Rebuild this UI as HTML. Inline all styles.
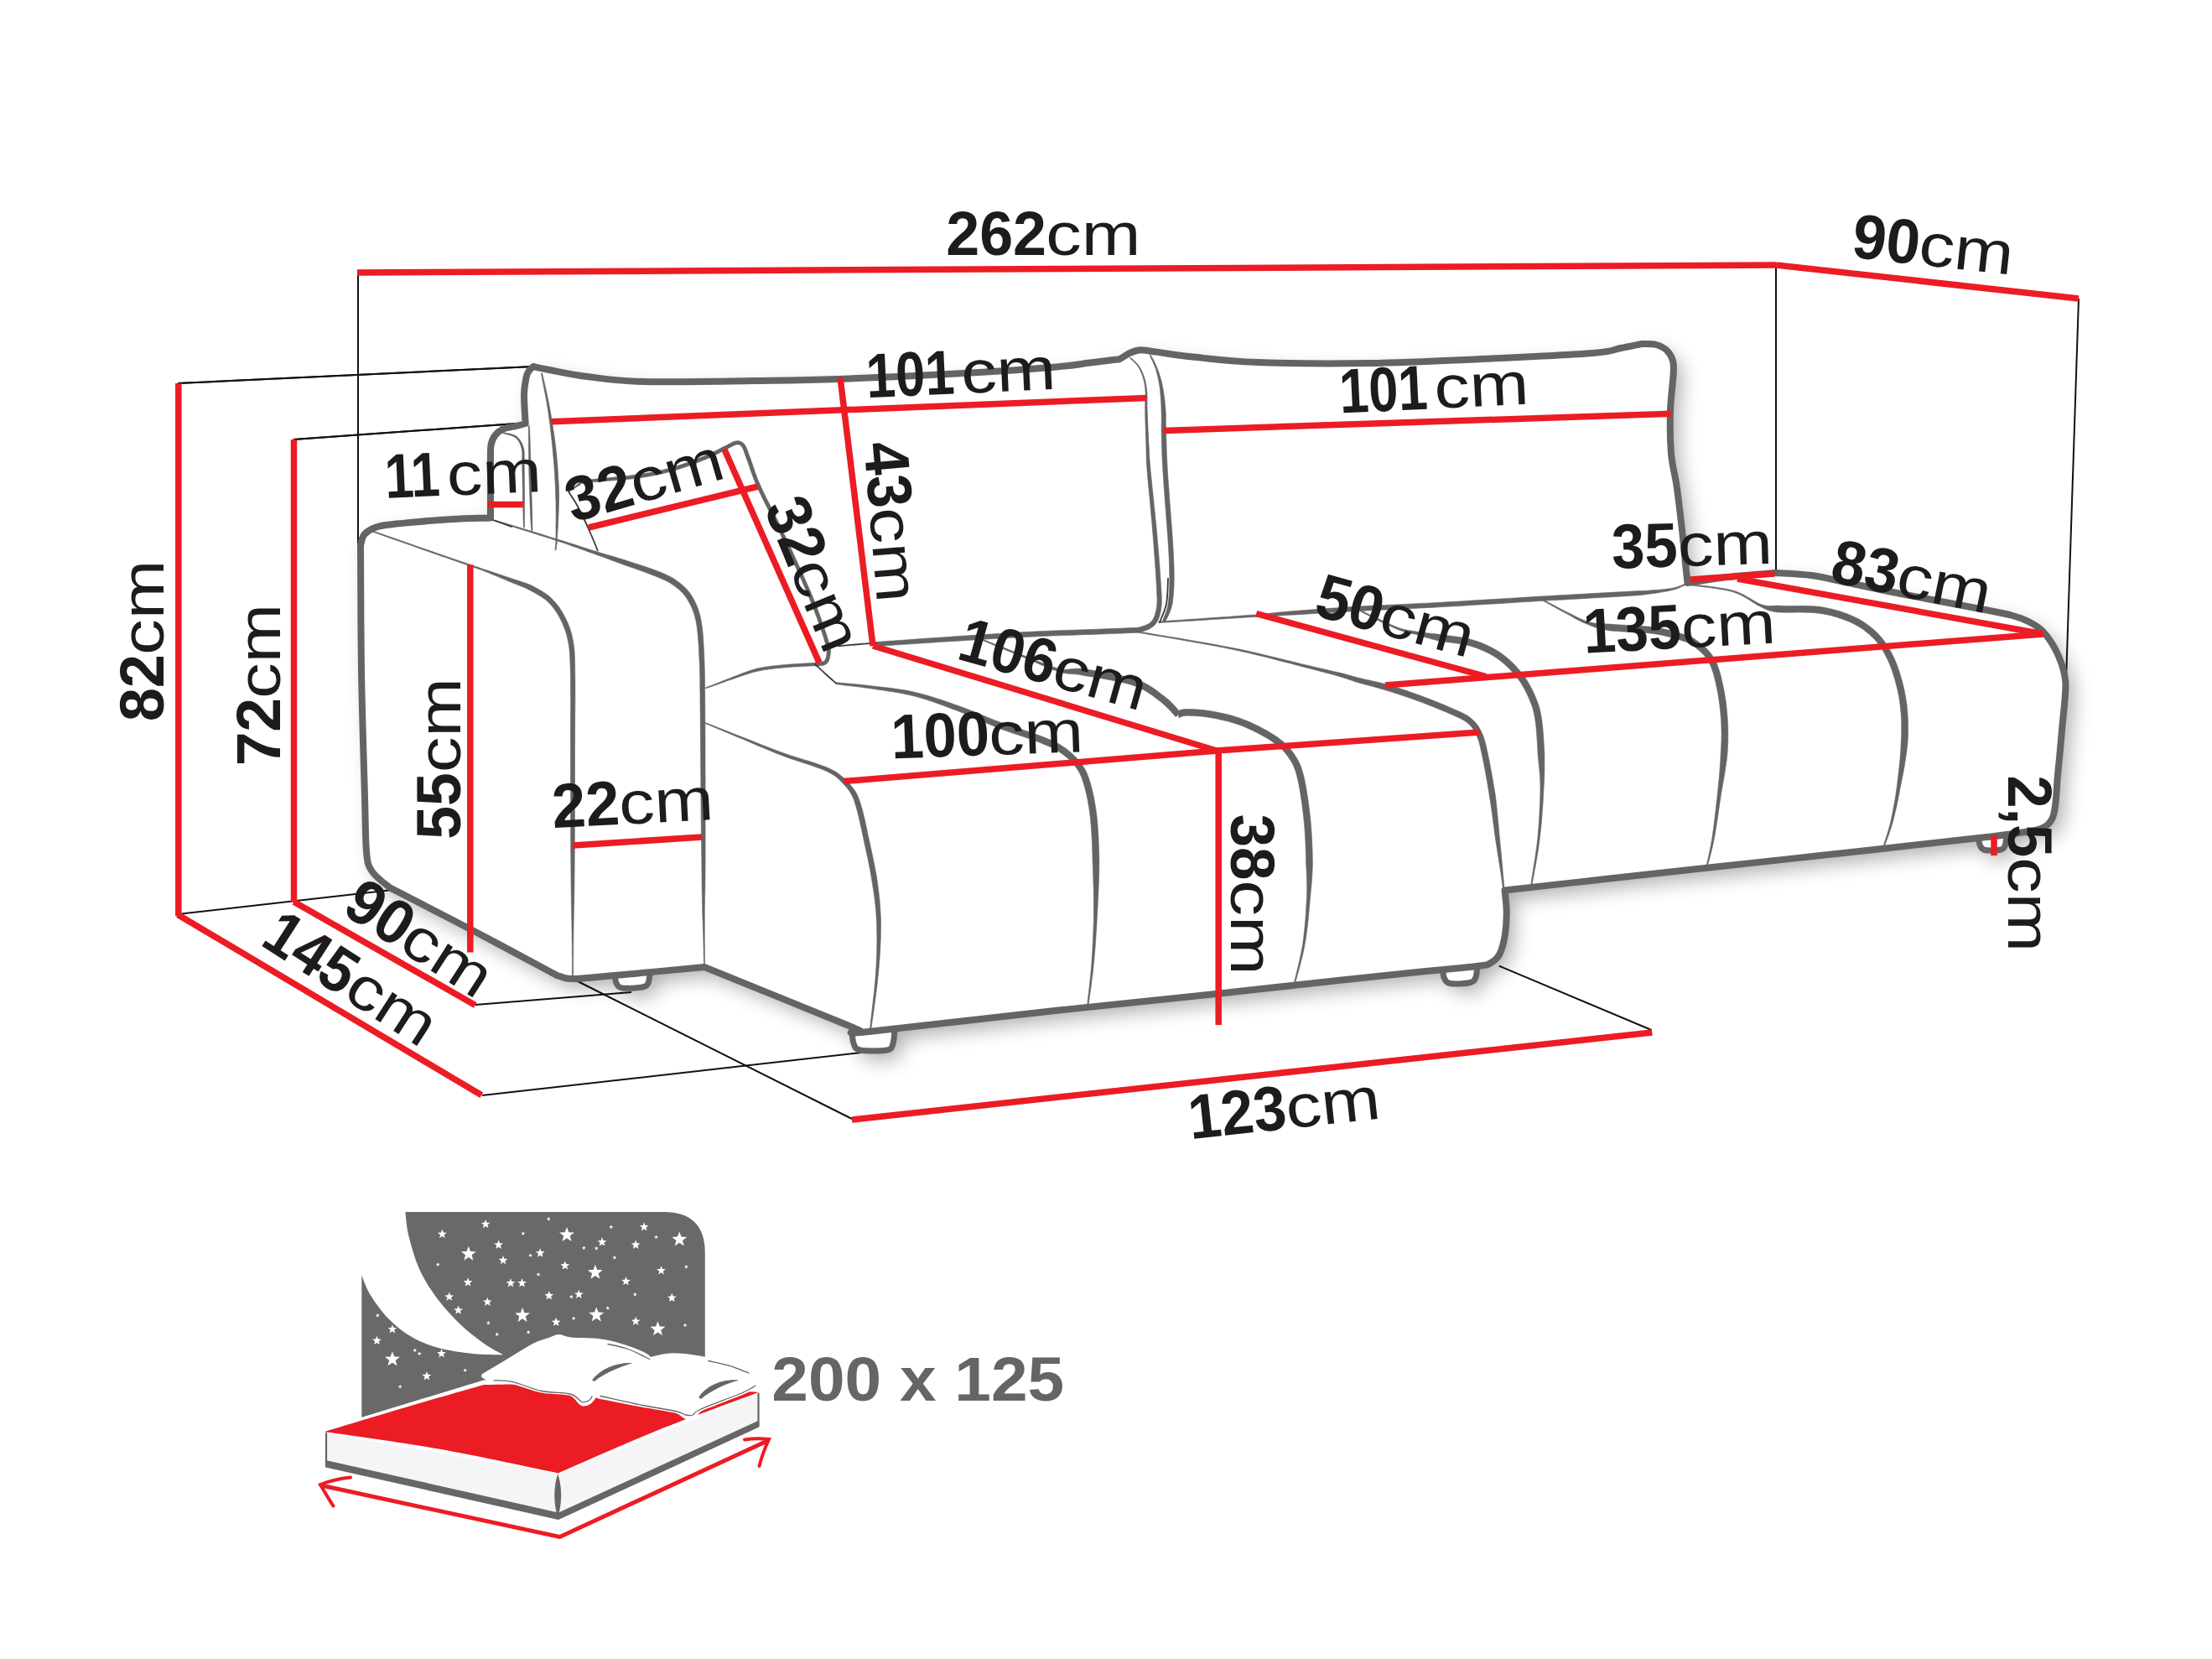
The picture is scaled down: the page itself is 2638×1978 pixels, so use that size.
<!DOCTYPE html>
<html lang="pl"><head><meta charset="utf-8"><title>Sofa 262cm</title>
<style>html,body{margin:0;padding:0;background:#fff}body{width:2638px;height:1978px;overflow:hidden}svg{display:block}text{font-family:"Liberation Sans",Arial,sans-serif;fill:#1d1b1c}.b{font-weight:bold}</style></head><body>
<svg width="2638" height="1978" viewBox="0 0 2638 1978">
<defs><filter id="sh" x="-5%" y="-5%" width="112%" height="115%"><feGaussianBlur in="SourceAlpha" stdDeviation="12"/><feOffset dx="9" dy="10"/><feComponentTransfer><feFuncA type="linear" slope="0.33"/></feComponentTransfer><feMerge><feMergeNode/><feMergeNode in="SourceGraphic"/></feMerge></filter></defs>
<rect width="2638" height="1978" fill="#fff"/>
<g fill="none" stroke-linecap="butt">
<path d="M427 325L427 650" stroke="#111" stroke-width="2"/>
<path d="M212 457L636 437" stroke="#111" stroke-width="2"/>
<path d="M350 524L616 505" stroke="#111" stroke-width="2"/>
<path d="M2118 316L2118 683" stroke="#111" stroke-width="2"/>
<path d="M2479 356L2464 811" stroke="#111" stroke-width="2"/>
<path d="M212 1090L468 1061" stroke="#111" stroke-width="2"/>
<path d="M567 1198L753 1183" stroke="#111" stroke-width="2"/>
<path d="M575 1306L1027 1255" stroke="#111" stroke-width="2"/>
<path d="M683 1167L1016 1334" stroke="#111" stroke-width="2"/>
<path d="M1969.4 1228L1787.7 1151.7" stroke="#111" stroke-width="2"/>
</g>
<g filter="url(#sh)">
<path d="M733 1160C733.3 1162 733.5 1169 735 1172C736.5 1175 736.8 1177.2 742 1178C747.2 1178.8 760.8 1178 766 1177C771.2 1176 771.5 1174.8 773 1172C774.5 1169.2 774.7 1162 775 1160Z" fill="#fff"/>
<path d="M1016 1228C1016.3 1230.7 1016.3 1240 1018 1244C1019.7 1248 1019.3 1250.7 1026 1252C1032.7 1253.3 1051.5 1253.3 1058 1252C1064.5 1250.7 1063.5 1248.3 1065 1244C1066.5 1239.7 1066.7 1229 1067 1226Z" fill="#fff"/>
<path d="M1720.8 1153C1721 1155 1720.6 1161.8 1722 1165C1723.4 1168.2 1723.8 1171.4 1729 1172.5C1734.2 1173.6 1747.8 1172.8 1753 1171.5C1758.2 1170.2 1758.5 1168.8 1760 1165C1761.5 1161.2 1761.5 1151.7 1761.8 1149Z" fill="#fff"/>
<path d="M2360 996C2360.2 997.8 2359.8 1004.1 2361 1007C2362.2 1009.9 2362.8 1012.5 2367 1013.5C2371.2 1014.5 2381.9 1014.1 2386 1013C2390.1 1011.9 2390.4 1010.2 2391.5 1007C2392.6 1003.8 2392.3 996.2 2392.5 994Z" fill="#fff"/>
<path d="M585 617.5C577.5 617.8 554.2 618.2 540 619C525.8 619.8 513.3 620.8 500 622C486.7 623.2 469.2 624.7 460 626C450.8 627.3 449.3 628 445 630C440.7 632 436.5 634.7 434 638C431.5 641.3 430.7 648 430 650C430.2 675 430.2 750 431 800C431.8 850 434 914.2 435 950C436 985.8 435.7 1000.3 437 1015C438.3 1029.7 438.8 1031.2 443 1038C447.2 1044.8 455.8 1051.3 462 1056C468.2 1060.7 462.5 1056.8 480 1066C497.5 1075.2 537.8 1095.7 567 1111C596.2 1126.3 638.2 1149.2 655 1158C671.8 1166.8 663.3 1162.5 668 1164C672.7 1165.5 672.2 1167.2 683 1167C693.8 1166.8 706.8 1165.3 733 1163C759.2 1160.7 822.2 1154.7 840 1153C868.3 1164.5 979.7 1209.5 1010 1222C1040.3 1234.5 1017.7 1226.7 1022 1228C1026.3 1229.3 995.2 1234 1036 1230C1076.8 1226 1198 1211.5 1267 1204C1336 1196.5 1394.5 1190.9 1450 1185C1505.5 1179.1 1558.3 1173 1600 1168.5C1641.7 1164 1672.8 1160.8 1700 1158C1727.2 1155.2 1750.3 1153.4 1763.3 1151.7C1776.3 1150 1773.6 1150.4 1777.8 1148C1782 1145.6 1785.7 1142.9 1788.6 1137.2C1791.5 1131.5 1793.7 1122.1 1795 1113.7C1796.3 1105.3 1796.8 1095.3 1796.7 1086.6C1796.6 1077.9 1794.9 1065.7 1794.5 1061.5C1812.1 1059.5 1860.2 1054.1 1900 1049.7C1939.8 1045.3 1977.5 1041.2 2033 1035.1C2088.5 1029 2177.3 1019.3 2233 1013.2C2288.7 1007.1 2335.8 1002 2367 998.3C2398.2 994.6 2408 993.4 2420 991.2C2432 989.1 2434.4 988.1 2439 985.4C2443.6 982.7 2445.7 979.8 2447.8 975.2C2449.9 970.6 2450.4 965.6 2451.4 957.9C2452.4 950.2 2452.8 938.5 2453.6 928.9C2454.4 919.2 2455.4 910.5 2456.4 900C2457.4 889.5 2458.3 877.7 2459.4 866C2460.5 854.3 2462.2 839 2462.8 830C2463.4 821 2463.8 818 2463.2 812C2462.6 806 2461.7 801 2459.5 794.3C2457.3 787.6 2453.9 779 2450 772C2446.1 765 2441 757.6 2436 752.5C2431 747.4 2426 744.6 2420 741.5C2414 738.4 2408.8 736.4 2400 734C2391.2 731.6 2389.2 731.3 2367 727C2344.8 722.7 2294.8 713.5 2267 708C2239.2 702.5 2217.8 697.7 2200 694C2182.2 690.3 2173.7 687.8 2160 686C2146.3 684.2 2125 683.5 2118 683C2108.3 683.8 2077.6 686 2060 688C2042.4 690 2020.4 693.8 2012.5 695C2012 690.5 2010.7 678.8 2009.6 668C2008.5 657.2 2007.5 644.8 2005.8 630C2004.1 615.2 2001.6 593.8 1999.5 579C1997.4 564.2 1994.2 555.8 1993 541C1991.8 526.2 1991.5 506 1992 490C1992.5 474 1995.2 455 1995.7 445C1996.2 435 1996.3 434.5 1995 430C1993.7 425.5 1991.3 421.2 1988 418C1984.7 414.8 1980 412.3 1975 411C1970 409.7 1960.8 410.2 1958 410C1953.8 410.8 1942.7 413.2 1933 415C1923.3 416.8 1927.7 418.8 1900 421C1872.3 423.2 1811.5 426 1767 428C1722.5 430 1677.5 432.3 1633 433C1588.5 433.7 1535 433.2 1500 432C1465 430.8 1442.8 427.7 1422.7 425.6C1402.6 423.5 1389.2 421 1379.3 419.6C1369.3 418.2 1367 417.7 1363 417.4C1359 417.1 1358.2 417.4 1355.5 418C1352.8 418.6 1350 419.6 1346.8 421.2C1343.5 422.8 1338.7 426.4 1336 427.7C1333.3 429 1336.5 428 1330.5 428.8C1324.5 429.6 1311.8 431.1 1300 432.5C1288.2 433.9 1285 435.4 1260 437.5C1235 439.6 1193.3 442.6 1150 445C1106.7 447.4 1041.7 450.5 1000 452C958.3 453.5 938.8 453.5 900 454C861.2 454.5 800.3 455.8 767 455C733.7 454.2 718.7 451.3 700 449C681.3 446.7 665.7 443 655 441C644.3 439 639.2 437.7 636 437C635.1 437.9 631.9 440.3 630.5 442.5C629.1 444.7 628.4 445.7 627.5 450.4C626.6 455.1 625.1 461.5 625 470.6C624.9 479.7 626.4 499.3 626.7 505C624.9 505.5 620.2 506.7 615.7 507.8C611.2 508.9 604.2 509.6 600 511.5C595.8 513.4 592.9 515.8 590.5 519C588.1 522.2 586.4 525 585.5 531C584.6 537 585.1 540.6 585 555C584.9 569.4 585 607.1 585 617.5Z" fill="#fff"/>
</g>
<path d="M733 1160C733.3 1162 733.5 1169 735 1172C736.5 1175 736.8 1177.2 742 1178C747.2 1178.8 760.8 1178 766 1177C771.2 1176 771.5 1174.8 773 1172C774.5 1169.2 774.7 1162 775 1160" fill="#fff" stroke="#646464" stroke-width="7" stroke-linecap="round" stroke-linejoin="round"/>
<path d="M1016 1228C1016.3 1230.7 1016.3 1240 1018 1244C1019.7 1248 1019.3 1250.7 1026 1252C1032.7 1253.3 1051.5 1253.3 1058 1252C1064.5 1250.7 1063.5 1248.3 1065 1244C1066.5 1239.7 1066.7 1229 1067 1226" fill="#fff" stroke="#646464" stroke-width="7" stroke-linecap="round" stroke-linejoin="round"/>
<path d="M1720.8 1153C1721 1155 1720.6 1161.8 1722 1165C1723.4 1168.2 1723.8 1171.4 1729 1172.5C1734.2 1173.6 1747.8 1172.8 1753 1171.5C1758.2 1170.2 1758.5 1168.8 1760 1165C1761.5 1161.2 1761.5 1151.7 1761.8 1149" fill="#fff" stroke="#646464" stroke-width="7" stroke-linecap="round" stroke-linejoin="round"/>
<path d="M2360 996C2360.2 997.8 2359.8 1004.1 2361 1007C2362.2 1009.9 2362.8 1012.5 2367 1013.5C2371.2 1014.5 2381.9 1014.1 2386 1013C2390.1 1011.9 2390.4 1010.2 2391.5 1007C2392.6 1003.8 2392.3 996.2 2392.5 994" fill="#fff" stroke="#646464" stroke-width="7" stroke-linecap="round" stroke-linejoin="round"/>
<path d="M585 617.5C577.5 617.8 554.2 618.2 540 619C525.8 619.8 513.3 620.8 500 622C486.7 623.2 469.2 624.7 460 626C450.8 627.3 449.3 628 445 630C440.7 632 436.5 634.7 434 638C431.5 641.3 430.7 648 430 650C430.2 675 430.2 750 431 800C431.8 850 434 914.2 435 950C436 985.8 435.7 1000.3 437 1015C438.3 1029.7 438.8 1031.2 443 1038C447.2 1044.8 455.8 1051.3 462 1056C468.2 1060.7 462.5 1056.8 480 1066C497.5 1075.2 537.8 1095.7 567 1111C596.2 1126.3 638.2 1149.2 655 1158C671.8 1166.8 663.3 1162.5 668 1164C672.7 1165.5 672.2 1167.2 683 1167C693.8 1166.8 706.8 1165.3 733 1163C759.2 1160.7 822.2 1154.7 840 1153C868.3 1164.5 979.7 1209.5 1010 1222C1040.3 1234.5 1017.7 1226.7 1022 1228C1026.3 1229.3 995.2 1234 1036 1230C1076.8 1226 1198 1211.5 1267 1204C1336 1196.5 1394.5 1190.9 1450 1185C1505.5 1179.1 1558.3 1173 1600 1168.5C1641.7 1164 1672.8 1160.8 1700 1158C1727.2 1155.2 1750.3 1153.4 1763.3 1151.7C1776.3 1150 1773.6 1150.4 1777.8 1148C1782 1145.6 1785.7 1142.9 1788.6 1137.2C1791.5 1131.5 1793.7 1122.1 1795 1113.7C1796.3 1105.3 1796.8 1095.3 1796.7 1086.6C1796.6 1077.9 1794.9 1065.7 1794.5 1061.5C1812.1 1059.5 1860.2 1054.1 1900 1049.7C1939.8 1045.3 1977.5 1041.2 2033 1035.1C2088.5 1029 2177.3 1019.3 2233 1013.2C2288.7 1007.1 2335.8 1002 2367 998.3C2398.2 994.6 2408 993.4 2420 991.2C2432 989.1 2434.4 988.1 2439 985.4C2443.6 982.7 2445.7 979.8 2447.8 975.2C2449.9 970.6 2450.4 965.6 2451.4 957.9C2452.4 950.2 2452.8 938.5 2453.6 928.9C2454.4 919.2 2455.4 910.5 2456.4 900C2457.4 889.5 2458.3 877.7 2459.4 866C2460.5 854.3 2462.2 839 2462.8 830C2463.4 821 2463.8 818 2463.2 812C2462.6 806 2461.7 801 2459.5 794.3C2457.3 787.6 2453.9 779 2450 772C2446.1 765 2441 757.6 2436 752.5C2431 747.4 2426 744.6 2420 741.5C2414 738.4 2408.8 736.4 2400 734C2391.2 731.6 2389.2 731.3 2367 727C2344.8 722.7 2294.8 713.5 2267 708C2239.2 702.5 2217.8 697.7 2200 694C2182.2 690.3 2173.7 687.8 2160 686C2146.3 684.2 2125 683.5 2118 683C2108.3 683.8 2077.6 686 2060 688C2042.4 690 2020.4 693.8 2012.5 695C2012 690.5 2010.7 678.8 2009.6 668C2008.5 657.2 2007.5 644.8 2005.8 630C2004.1 615.2 2001.6 593.8 1999.5 579C1997.4 564.2 1994.2 555.8 1993 541C1991.8 526.2 1991.5 506 1992 490C1992.5 474 1995.2 455 1995.7 445C1996.2 435 1996.3 434.5 1995 430C1993.7 425.5 1991.3 421.2 1988 418C1984.7 414.8 1980 412.3 1975 411C1970 409.7 1960.8 410.2 1958 410C1953.8 410.8 1942.7 413.2 1933 415C1923.3 416.8 1927.7 418.8 1900 421C1872.3 423.2 1811.5 426 1767 428C1722.5 430 1677.5 432.3 1633 433C1588.5 433.7 1535 433.2 1500 432C1465 430.8 1442.8 427.7 1422.7 425.6C1402.6 423.5 1389.2 421 1379.3 419.6C1369.3 418.2 1367 417.7 1363 417.4C1359 417.1 1358.2 417.4 1355.5 418C1352.8 418.6 1350 419.6 1346.8 421.2C1343.5 422.8 1338.7 426.4 1336 427.7C1333.3 429 1336.5 428 1330.5 428.8C1324.5 429.6 1311.8 431.1 1300 432.5C1288.2 433.9 1285 435.4 1260 437.5C1235 439.6 1193.3 442.6 1150 445C1106.7 447.4 1041.7 450.5 1000 452C958.3 453.5 938.8 453.5 900 454C861.2 454.5 800.3 455.8 767 455C733.7 454.2 718.7 451.3 700 449C681.3 446.7 665.7 443 655 441C644.3 439 639.2 437.7 636 437C635.1 437.9 631.9 440.3 630.5 442.5C629.1 444.7 628.4 445.7 627.5 450.4C626.6 455.1 625.1 461.5 625 470.6C624.9 479.7 626.4 499.3 626.7 505C624.9 505.5 620.2 506.7 615.7 507.8C611.2 508.9 604.2 509.6 600 511.5C595.8 513.4 592.9 515.8 590.5 519C588.1 522.2 586.4 525 585.5 531C584.6 537 585.1 540.6 585 555C584.9 569.4 585 607.1 585 617.5Z" fill="#fff"/>
<g fill="none">
<path d="M427 325L427 650" stroke="#111" stroke-width="2"/>
<path d="M212 457L636 437" stroke="#111" stroke-width="2"/>
<path d="M350 524L616 505" stroke="#111" stroke-width="2"/>
</g>
<g fill="none" stroke-linecap="round" stroke-linejoin="round">
<path d="M585 617.5C577.5 617.8 554.2 618.2 540 619C525.8 619.8 513.3 620.8 500 622C486.7 623.2 469.2 624.7 460 626C450.8 627.3 449.3 628 445 630C440.7 632 436.5 634.7 434 638C431.5 641.3 430.7 648 430 650C430.2 675 430.2 750 431 800C431.8 850 434 914.2 435 950C436 985.8 435.7 1000.3 437 1015C438.3 1029.7 438.8 1031.2 443 1038C447.2 1044.8 455.8 1051.3 462 1056C468.2 1060.7 462.5 1056.8 480 1066C497.5 1075.2 537.8 1095.7 567 1111C596.2 1126.3 638.2 1149.2 655 1158C671.8 1166.8 663.3 1162.5 668 1164C672.7 1165.5 672.2 1167.2 683 1167C693.8 1166.8 706.8 1165.3 733 1163C759.2 1160.7 822.2 1154.7 840 1153C868.3 1164.5 979.7 1209.5 1010 1222C1040.3 1234.5 1017.7 1226.7 1022 1228C1026.3 1229.3 995.2 1234 1036 1230C1076.8 1226 1198 1211.5 1267 1204C1336 1196.5 1394.5 1190.9 1450 1185C1505.5 1179.1 1558.3 1173 1600 1168.5C1641.7 1164 1672.8 1160.8 1700 1158C1727.2 1155.2 1750.3 1153.4 1763.3 1151.7C1776.3 1150 1773.6 1150.4 1777.8 1148C1782 1145.6 1785.7 1142.9 1788.6 1137.2C1791.5 1131.5 1793.7 1122.1 1795 1113.7C1796.3 1105.3 1796.8 1095.3 1796.7 1086.6C1796.6 1077.9 1794.9 1065.7 1794.5 1061.5C1812.1 1059.5 1860.2 1054.1 1900 1049.7C1939.8 1045.3 1977.5 1041.2 2033 1035.1C2088.5 1029 2177.3 1019.3 2233 1013.2C2288.7 1007.1 2335.8 1002 2367 998.3C2398.2 994.6 2408 993.4 2420 991.2C2432 989.1 2434.4 988.1 2439 985.4C2443.6 982.7 2445.7 979.8 2447.8 975.2C2449.9 970.6 2450.4 965.6 2451.4 957.9C2452.4 950.2 2452.8 938.5 2453.6 928.9C2454.4 919.2 2455.4 910.5 2456.4 900C2457.4 889.5 2458.3 877.7 2459.4 866C2460.5 854.3 2462.2 839 2462.8 830C2463.4 821 2463.8 818 2463.2 812C2462.6 806 2461.7 801 2459.5 794.3C2457.3 787.6 2453.9 779 2450 772C2446.1 765 2441 757.6 2436 752.5C2431 747.4 2426 744.6 2420 741.5C2414 738.4 2408.8 736.4 2400 734C2391.2 731.6 2389.2 731.3 2367 727C2344.8 722.7 2294.8 713.5 2267 708C2239.2 702.5 2217.8 697.7 2200 694C2182.2 690.3 2173.7 687.8 2160 686C2146.3 684.2 2125 683.5 2118 683C2108.3 683.8 2077.6 686 2060 688C2042.4 690 2020.4 693.8 2012.5 695C2012 690.5 2010.7 678.8 2009.6 668C2008.5 657.2 2007.5 644.8 2005.8 630C2004.1 615.2 2001.6 593.8 1999.5 579C1997.4 564.2 1994.2 555.8 1993 541C1991.8 526.2 1991.5 506 1992 490C1992.5 474 1995.2 455 1995.7 445C1996.2 435 1996.3 434.5 1995 430C1993.7 425.5 1991.3 421.2 1988 418C1984.7 414.8 1980 412.3 1975 411C1970 409.7 1960.8 410.2 1958 410C1953.8 410.8 1942.7 413.2 1933 415C1923.3 416.8 1927.7 418.8 1900 421C1872.3 423.2 1811.5 426 1767 428C1722.5 430 1677.5 432.3 1633 433C1588.5 433.7 1535 433.2 1500 432C1465 430.8 1442.8 427.7 1422.7 425.6C1402.6 423.5 1389.2 421 1379.3 419.6C1369.3 418.2 1367 417.7 1363 417.4C1359 417.1 1358.2 417.4 1355.5 418C1352.8 418.6 1350 419.6 1346.8 421.2C1343.5 422.8 1338.7 426.4 1336 427.7C1333.3 429 1336.5 428 1330.5 428.8C1324.5 429.6 1311.8 431.1 1300 432.5C1288.2 433.9 1285 435.4 1260 437.5C1235 439.6 1193.3 442.6 1150 445C1106.7 447.4 1041.7 450.5 1000 452C958.3 453.5 938.8 453.5 900 454C861.2 454.5 800.3 455.8 767 455C733.7 454.2 718.7 451.3 700 449C681.3 446.7 665.7 443 655 441C644.3 439 639.2 437.7 636 437C635.1 437.9 631.9 440.3 630.5 442.5C629.1 444.7 628.4 445.7 627.5 450.4C626.6 455.1 625.1 461.5 625 470.6C624.9 479.7 626.4 499.3 626.7 505C624.9 505.5 620.2 506.7 615.7 507.8C611.2 508.9 604.2 509.6 600 511.5C595.8 513.4 592.9 515.8 590.5 519C588.1 522.2 586.4 525 585.5 531C584.6 537 585.1 540.6 585 555C584.9 569.4 585 607.1 585 617.5Z" stroke="#646464" stroke-width="8"/>
<path d="M678.3 586.7L679.1 586.2L680.1 585.6L681.2 584.8L682.5 583.9L683.9 583L685.3 582.1L686.7 581.2L688.1 580.3L689.4 579.5L690.6 578.9L691.5 578.3L692.2 577.7L692.6 577.1L692.8 576.8L692.8 576.8L693.1 576.7L693.8 576.5L695.1 576.2L697.2 575.9L700.2 575.5L704.2 575L709.3 574.6L715.1 574.1L721.5 573.6L728.3 573.1L735.2 572.5L742.1 572L748.7 571.4L754.8 570.8L760.3 570.1L765.1 569.4L769.6 568.7L773.8 568.1L777.8 567.3L781.7 566.6L785.4 565.8L789.1 565L792.8 564.1L796.6 563.1L800.6 562.1L804.7 560.9L808.9 559.6L813.2 558.2L817.4 556.8L821.7 555.3L825.8 553.8L829.9 552.3L833.7 550.8L837.4 549.3L840.8 548L844 546.7L847 545.3L849.9 544L852.6 542.7L855.2 541.4L857.6 540.2L859.8 539L862 537.9L864 536.9L865.9 535.9L867.8 535L869.4 534.2L871 533.4L872.3 532.6L873.6 532L874.7 531.4L875.7 530.9L876.6 530.6L877.5 530.3L878.3 530.1L879.2 530L879.9 530L880.6 530L881.2 530.1L881.7 530.3L882.2 530.5L882.7 530.8L883.2 531.2L883.8 531.7L884.3 532.4L884.9 533.1L885.4 533.8L885.8 534.7L886.2 535.6L886.7 536.8L887.2 538.1L887.7 539.6L888.4 541.4L889.1 543.5L890 545.8L890.9 548.3L891.9 551L892.9 553.9L893.9 557.1L895.1 560.5L896.4 564.1L897.8 568L899.3 572L901.1 576.3L903 580.9L905.2 585.6L907.6 590.6L910.2 595.9L912.9 601.3L915.8 607L918.7 612.8L921.8 618.8L924.8 625L928 631.4L931.1 637.9L934.3 644.8L937.7 652.1L941.3 659.8L944.9 667.7L948.6 675.6L952.2 683.6L955.8 691.4L959.1 699L962.2 706.2L965 712.8L967.6 719.2L970 725.4L972.3 731.5L974.5 737.3L976.5 743L978.3 748.3L980 753.3L981.5 757.8L982.8 762L983.9 765.6L984.8 768.7L985.5 771L985.9 772.9L986.2 774.3L986.3 775.3L986.3 776.1L986.2 776.8L986.1 777.6L986 778.6L985.9 779.8L985.7 781L985.6 782.1L985.4 783.2L985.1 784.2L984.9 785.1L984.5 785.9L984.1 786.6L983.7 787.3L983.2 787.8L982.8 788.2L982.2 788.6L981.3 788.9L980.2 789.1L978.9 789.3L977.6 789.5L976.2 789.6L974.9 789.7L973.6 789.7L972.6 789.8L971.8 789.9L972.2 794.1L972.9 794.1L973.9 794L975.1 793.9L976.5 793.9L977.9 793.8L979.5 793.6L981 793.4L982.5 793L984 792.5L985.2 791.8L986.3 790.9L987.1 789.9L987.8 788.8L988.4 787.7L988.9 786.5L989.3 785.3L989.6 784.1L989.8 782.8L990 781.5L990.1 780.2L990.3 779.1L990.4 778.2L990.5 777.3L990.6 776.3L990.6 775.1L990.4 773.7L990.1 772L989.7 770L989 767.5L988.1 764.4L986.9 760.7L985.6 756.5L984.1 751.9L982.4 746.9L980.5 741.5L978.5 735.9L976.4 730L974 723.8L971.6 717.6L969 711.2L966.2 704.5L963 697.3L959.7 689.7L956.2 681.8L952.5 673.9L948.8 665.9L945.2 658L941.6 650.3L938.2 643L934.9 636.1L931.8 629.5L928.7 623.1L925.6 616.9L922.6 610.9L919.6 605L916.8 599.4L914 594L911.5 588.8L909.1 583.8L907 579.1L905 574.7L903.3 570.5L901.8 566.5L900.4 562.7L899.2 559.1L898 555.7L897 552.6L895.9 549.6L895 546.8L894 544.2L893.1 541.9L892.4 539.9L891.8 538.2L891.2 536.6L890.7 535.2L890.2 534L889.7 532.8L889.1 531.7L888.4 530.6L887.7 529.6L886.9 528.7L886 527.9L885.1 527.2L884.2 526.7L883.2 526.2L882.1 525.9L881.1 525.8L880 525.7L878.8 525.7L877.7 525.9L876.4 526.1L875.2 526.5L874 527L872.8 527.5L871.6 528.2L870.3 528.8L868.9 529.6L867.4 530.4L865.8 531.2L864.1 532.1L862.1 533L860 534.1L857.9 535.2L855.6 536.4L853.2 537.6L850.7 538.8L848.1 540.1L845.3 541.4L842.3 542.7L839.2 544L835.8 545.3L832.2 546.8L828.3 548.2L824.3 549.7L820.2 551.2L816 552.7L811.8 554.1L807.6 555.5L803.5 556.8L799.4 557.9L795.5 559L791.8 559.9L788.1 560.8L784.5 561.6L780.8 562.4L777 563.1L773.1 563.8L768.9 564.5L764.5 565.2L759.7 565.9L754.3 566.6L748.3 567.4L741.7 568.1L734.9 568.8L728 569.4L721.2 570.1L714.8 570.7L709 571.3L703.9 571.9L699.8 572.5L696.7 573L694.5 573.5L693 573.9L691.9 574.3L691.2 574.9L690.7 575.5L690.5 576L690.4 576.2L690.2 576.6L689.4 577.1L688.3 577.8L687 578.7L685.7 579.7L684.3 580.7L682.9 581.7L681.6 582.7L680.4 583.6L679.3 584.5L678.3 585.2L677.7 585.7Z" fill="#646464" stroke="#646464" stroke-width="0.6" stroke-linejoin="round"/>
<path d="M645.4 445.4L645.9 447.9L646.5 451.1L647.2 454.8L648 458.9L648.9 463.4L649.8 468.2L650.8 473.1L651.7 478.1L652.5 483L653.3 487.7L654 492.4L654.6 497.3L655.3 502.2L656 507.3L656.6 512.4L657.2 517.6L657.8 522.8L658.4 528L658.9 533.1L659.3 538.2L659.8 543.3L660.3 548.3L660.7 553.4L661.1 558.5L661.4 563.5L661.7 568.6L662 573.7L662.3 578.7L662.5 583.8L662.6 588.8L662.8 594L663 599.5L663 605L663.1 610.7L663.1 616.2L663.1 621.6L663 626.7L663 631.4L663 635.7L663 639.4L662.9 642.5L662.8 645.1L662.7 647.4L662.6 649.2L662.5 650.8L662.3 652.1L662.2 653.2L662.1 654.2L662.1 655.1L662 656L663 656L663.1 655.2L663.2 654.4L663.4 653.4L663.6 652.3L663.7 650.9L663.9 649.3L664.1 647.5L664.3 645.2L664.5 642.5L664.6 639.4L664.8 635.7L665.1 631.5L665.4 626.8L665.6 621.7L665.9 616.3L666.1 610.7L666.3 605.1L666.5 599.5L666.6 594L666.6 588.8L666.5 583.7L666.3 578.6L666 573.5L665.7 568.4L665.4 563.3L665.1 558.2L664.7 553.1L664.2 548L663.8 542.9L663.3 537.8L662.7 532.7L662 527.5L661.3 522.3L660.6 517.2L659.8 512L659 506.9L658.2 501.8L657.4 496.9L656.6 492L655.7 487.3L654.8 482.5L653.9 477.6L652.8 472.7L651.8 467.8L650.7 463.1L649.7 458.6L648.8 454.4L647.9 450.8L647.2 447.6L646.6 445.2Z" fill="#646464" stroke="#646464" stroke-width="0.6" stroke-linejoin="round"/>
<path d="M630.3 507.8L630.3 510.9L630.3 514.9L630.3 519.7L630.4 525L630.4 530.8L630.5 536.8L630.6 542.9L630.6 548.9L630.7 554.7L630.8 560L630.9 565.2L631.1 570.6L631.2 576.1L631.4 581.5L631.6 586.9L631.8 592.1L631.9 597.1L632.1 601.8L632.3 606.2L632.4 610L632.6 613.5L632.7 616.7L632.9 619.6L633 622.2L633.1 624.5L633.3 626.6L633.4 628.4L633.5 630.1L633.6 631.5L633.7 632.7L634.9 632.7L634.9 631.4L634.9 630L634.9 628.4L634.9 626.5L634.8 624.4L634.8 622.1L634.8 619.5L634.7 616.6L634.7 613.4L634.6 610L634.5 606.1L634.4 601.7L634.2 597L634.1 592L633.9 586.8L633.8 581.4L633.6 576L633.5 570.5L633.4 565.2L633.2 560L633.1 554.6L632.9 548.8L632.7 542.8L632.5 536.8L632.3 530.8L632.1 525L631.9 519.7L631.8 514.9L631.6 510.9L631.5 507.8Z" fill="#646464" stroke="#646464" stroke-width="0.6" stroke-linejoin="round"/>
<path d="M600.3 516.8L601.3 517.1L602.5 517.4L604 517.8L605.7 518.2L607.4 518.7L609.2 519.2L610.9 519.8L612.5 520.5L613.9 521.3L615.1 522.1L616.1 523L617 524L617.9 525.2L618.7 526.4L619.4 527.6L620.1 529L620.7 530.4L621.2 531.9L621.7 533.5L622.1 535.1L622.4 536.7L622.6 538.2L622.8 539.7L622.8 541.2L622.8 542.9L622.8 544.8L622.8 546.9L622.7 549.3L622.7 552L622.8 555L622.8 558.6L622.9 562.7L623 567.2L623.1 572L623.2 577L623.3 582L623.4 586.9L623.4 591.6L623.5 596L623.6 600L623.7 603.7L623.8 607.3L623.9 610.8L624 614.2L624 617.3L624.1 620.3L624.2 622.9L624.3 625.3L624.3 627.4L624.4 629L625.6 629L625.6 627.3L625.6 625.3L625.6 622.9L625.6 620.2L625.6 617.3L625.6 614.1L625.6 610.8L625.6 607.3L625.6 603.7L625.6 600L625.6 596L625.5 591.6L625.5 586.9L625.5 581.9L625.4 576.9L625.4 572L625.4 567.2L625.3 562.7L625.3 558.5L625.2 555L625.2 551.9L625.2 549.3L625.3 546.9L625.3 544.8L625.3 542.9L625.3 541.2L625.3 539.5L625.1 537.9L624.9 536.2L624.5 534.5L624 532.8L623.5 531.1L622.9 529.6L622.2 528L621.4 526.6L620.5 525.2L619.6 523.9L618.6 522.7L617.5 521.5L616.3 520.5L614.9 519.6L613.3 518.8L611.5 518.2L609.7 517.6L607.8 517.1L606 516.7L604.3 516.4L602.8 516.1L601.6 515.8L600.7 515.6Z" fill="#646464" stroke="#646464" stroke-width="0.6" stroke-linejoin="round"/>
<path d="M1347.5 427.1L1348.1 427.7L1348.9 428.4L1349.8 429.2L1350.8 430.1L1351.9 431.1L1353.1 432.2L1354.2 433.3L1355.2 434.4L1356.2 435.6L1357.1 436.8L1357.8 438L1358.6 439.2L1359.3 440.6L1359.9 441.9L1360.6 443.3L1361.2 444.8L1361.8 446.2L1362.3 447.7L1362.8 449.2L1363.3 450.7L1363.7 452.2L1364.1 453.7L1364.4 455.2L1364.8 456.8L1365 458.3L1365.3 459.9L1365.5 461.6L1365.7 463.3L1365.9 465L1366 466.9L1366.1 468.7L1366.1 470.5L1366.1 472.2L1366 474L1365.9 475.9L1365.8 478L1365.7 480.2L1365.7 482.7L1365.6 485.4L1365.7 488.5L1365.7 492.1L1365.8 496.1L1365.9 500.5L1366 505.1L1366.2 509.9L1366.3 514.7L1366.5 519.5L1366.6 524L1366.8 528.2L1366.9 532.1L1367 535.3L1367 537.9L1367.1 540.2L1367.1 542.2L1367.1 544.2L1367.2 546.4L1367.3 548.9L1367.4 551.9L1367.7 555.6L1368 560.2L1368.5 565.7L1369 572L1369.6 579L1370.4 586.5L1371.1 594.3L1371.9 602.3L1372.6 610.3L1373.3 618.3L1374 626L1374.6 633.2L1375.2 640.3L1375.8 647.7L1376.3 655.1L1376.9 662.4L1377.4 669.7L1377.9 676.7L1378.4 683.4L1378.8 689.6L1379.1 695.2L1379.4 700.1L1379.6 704.4L1379.7 707.9L1379.9 711L1380 713.5L1380 715.6L1380 717.5L1379.9 719.3L1379.7 720.9L1379.5 722.7L1379.3 724.6L1379 726.6L1378.6 728.5L1378.2 730.3L1377.7 732L1377.2 733.7L1376.6 735.2L1376 736.6L1375.3 737.9L1374.6 739.1L1373.7 740.2L1372.9 741.2L1371.9 742.1L1370.9 742.9L1369.8 743.7L1368.6 744.3L1367.3 745L1365.9 745.6L1364.4 746.1L1362.9 746.6L1361.2 747.1L1359.7 747.6L1358.6 747.9L1358 748.1L1357.4 748.2L1356.6 748.3L1355.1 748.3L1353 748.4L1349.8 748.6L1345.5 748.7L1339.9 749L1332.6 749.3L1323.8 749.6L1313.8 750L1302.9 750.4L1291.3 750.8L1279.3 751.2L1267.2 751.6L1255.2 752L1243.7 752.5L1232.9 753L1222.5 753.5L1212.2 754.1L1201.9 754.7L1191.7 755.4L1181.6 756L1171.6 756.7L1161.7 757.3L1151.9 758L1142.3 758.6L1132.8 759.3L1123.1 759.9L1113 760.6L1102.8 761.3L1092.5 762L1082.6 762.8L1073.1 763.4L1064.4 764.1L1056.6 764.6L1050 765.1L1044.8 765.5L1045.2 770.5L1050.4 770.2L1057 769.7L1064.7 769.2L1073.5 768.6L1082.9 768L1092.9 767.3L1103.1 766.7L1113.4 766L1123.5 765.3L1133.2 764.7L1142.7 764.2L1152.3 763.6L1162.1 763L1172 762.3L1182 761.7L1192.1 761.2L1202.3 760.6L1212.5 760L1222.8 759.5L1233.1 759L1243.9 758.5L1255.4 758L1267.4 757.6L1279.5 757.2L1291.5 756.7L1303.1 756.4L1314 756L1324 755.6L1332.8 755.3L1340.1 755L1345.8 754.7L1350.1 754.6L1353.2 754.4L1355.5 754.3L1357.1 754.2L1358.3 754.1L1359.4 753.9L1360.3 753.6L1361.4 753.3L1362.8 752.9L1364.6 752.3L1366.4 751.7L1368.2 751.1L1369.8 750.3L1371.4 749.5L1372.9 748.6L1374.4 747.6L1375.8 746.5L1377.1 745.2L1378.3 743.8L1379.3 742.3L1380.3 740.7L1381.2 739L1381.9 737.3L1382.6 735.5L1383.1 733.6L1383.6 731.6L1384 729.6L1384.4 727.5L1384.7 725.4L1385 723.3L1385.2 721.4L1385.3 719.6L1385.4 717.7L1385.4 715.6L1385.3 713.3L1385.2 710.7L1385.1 707.7L1384.9 704.1L1384.6 699.9L1384.3 694.9L1383.9 689.2L1383.5 683L1383 676.3L1382.5 669.3L1381.9 662.1L1381.3 654.7L1380.6 647.3L1380 639.9L1379.4 632.8L1378.7 625.5L1377.9 617.8L1377.1 609.9L1376.3 601.9L1375.5 593.8L1374.6 586L1373.9 578.6L1373.2 571.6L1372.5 565.3L1372 559.8L1371.6 555.3L1371.3 551.6L1371 548.7L1370.8 546.2L1370.7 544.1L1370.6 542.1L1370.5 540.1L1370.4 537.8L1370.3 535.2L1370.1 531.9L1369.9 528.1L1369.7 523.9L1369.5 519.3L1369.2 514.6L1369 509.8L1368.8 505L1368.6 500.4L1368.4 496L1368.3 492L1368.1 488.5L1368.1 485.4L1368 482.7L1368 480.2L1368 478L1368.1 476L1368.1 474.1L1368.1 472.2L1368 470.4L1367.9 468.6L1367.8 466.7L1367.6 464.9L1367.4 463.1L1367.2 461.3L1366.9 459.7L1366.7 458L1366.3 456.4L1366 454.9L1365.6 453.3L1365.2 451.8L1364.7 450.3L1364.2 448.7L1363.7 447.2L1363.1 445.7L1362.5 444.2L1361.9 442.8L1361.2 441.3L1360.5 439.9L1359.7 438.6L1359 437.3L1358.1 436L1357.2 434.8L1356.2 433.6L1355.1 432.4L1353.9 431.3L1352.8 430.2L1351.7 429.2L1350.6 428.3L1349.7 427.5L1348.9 426.8L1348.3 426.3Z" fill="#646464" stroke="#646464" stroke-width="0.6" stroke-linejoin="round"/>
<path d="M1371.2 423.7L1371.6 424.6L1372.2 425.8L1372.8 427.3L1373.6 428.8L1374.4 430.6L1375.3 432.4L1376.1 434.3L1376.9 436.2L1377.7 438.1L1378.4 440L1378.9 442L1379.5 443.9L1380 446L1380.5 448.1L1381 450.2L1381.5 452.4L1381.9 454.7L1382.3 456.9L1382.7 459.3L1383.1 461.7L1383.4 464.1L1383.7 466.6L1383.9 469.2L1384.1 471.8L1384.3 474.5L1384.5 477.2L1384.7 480L1384.8 482.8L1384.9 485.7L1385 488.6L1385.1 491.6L1385.2 494.5L1385.2 497.5L1385.2 500.5L1385.2 503.6L1385.1 506.8L1385.1 510.1L1385.1 513.6L1385.2 517.2L1385.3 521.1L1385.4 524.9L1385.5 528.6L1385.6 532.2L1385.7 535.9L1385.8 539.9L1386 544.2L1386.2 548.9L1386.5 554.3L1386.8 560.3L1387.3 567.2L1387.8 575.2L1388.5 584.5L1389.2 594.8L1390.1 605.7L1390.9 617L1391.8 628.2L1392.6 639.2L1393.3 649.5L1393.9 658.9L1394.3 667.1L1394.5 674.2L1394.7 680.7L1394.8 686.5L1394.9 691.8L1394.8 696.7L1394.7 701.2L1394.5 705.3L1394.2 709.3L1393.9 713L1393.5 716.7L1393.1 720.1L1392.5 723.3L1391.8 726.2L1390.9 728.9L1390.1 731.4L1389.2 733.6L1388.4 735.6L1387.7 737.4L1387 739.1L1386.6 740.5L1389.4 741.5L1390 740.3L1390.7 738.9L1391.7 737.1L1392.7 735.2L1393.8 732.9L1394.9 730.3L1396 727.5L1397 724.4L1397.8 721L1398.5 717.3L1398.9 713.5L1399.3 709.7L1399.6 705.6L1399.9 701.4L1400.1 696.8L1400.2 691.9L1400.2 686.5L1400.1 680.6L1400 674.1L1399.7 666.9L1399.3 658.6L1398.8 649.2L1398.1 638.8L1397.3 627.8L1396.4 616.5L1395.6 605.3L1394.7 594.4L1394 584.1L1393.3 574.8L1392.7 566.8L1392.3 560L1392 554L1391.7 548.7L1391.5 543.9L1391.3 539.7L1391.2 535.7L1391.1 532L1391 528.4L1390.9 524.7L1390.7 520.9L1390.6 517.1L1390.5 513.5L1390.5 510.1L1390.4 506.8L1390.4 503.6L1390.4 500.5L1390.3 497.4L1390.3 494.4L1390.2 491.4L1390 488.4L1389.8 485.4L1389.5 482.5L1389.2 479.6L1388.9 476.8L1388.6 474.1L1388.2 471.4L1387.8 468.7L1387.4 466.1L1387 463.6L1386.5 461.1L1386 458.7L1385.5 456.3L1384.9 454L1384.3 451.7L1383.7 449.5L1383 447.4L1382.4 445.3L1381.7 443.3L1381 441.3L1380.2 439.4L1379.5 437.4L1378.6 435.5L1377.7 433.5L1376.8 431.6L1375.9 429.8L1375 428.1L1374.1 426.6L1373.4 425.2L1372.7 424.1L1372.2 423.1Z" fill="#646464" stroke="#646464" stroke-width="0.6" stroke-linejoin="round"/>
<path d="M442.8 633.6L447.5 635.2L453.6 637.4L460.9 640L469.1 642.9L477.8 645.9L486.9 649.1L495.9 652.3L504.5 655.4L512.6 658.2L519.8 660.7L526.2 663L532.5 665.1L538.5 667.2L544.3 669.2L549.9 671.2L555.2 673L560.4 674.8L565.3 676.5L570.1 678.2L574.7 679.8L579 681.5L583.1 683.1L586.9 684.7L590.5 686.2L593.9 687.6L597.2 689L600.4 690.3L603.4 691.6L606.3 692.9L609.2 694.1L612 695.2L614.6 696.2L617 697.2L619.3 698.1L621.4 698.9L623.5 699.8L625.5 700.6L627.5 701.6L629.5 702.6L631.7 703.7L633.9 704.8L636.2 706L638.4 707.3L640.7 708.5L642.9 709.9L645.1 711.2L647.2 712.7L649.3 714.1L651.2 715.6L653 717.2L654.7 718.9L656.3 720.5L657.9 722.3L659.4 724.1L660.8 726L662.2 727.9L663.6 729.9L664.9 732L666.1 734.2L667.4 736.4L668.6 738.7L669.7 741.1L670.9 743.5L671.9 745.9L673 748.5L673.9 751.1L674.8 753.8L675.6 756.6L676.4 759.5L677.1 762.6L677.7 765.6L678.2 768.4L678.6 771L679 773.7L679.3 776.7L679.5 780L679.7 783.8L679.9 788.3L680.1 793.7L680.3 800.1L680.4 807.5L680.5 816L680.5 825.4L680.6 835.5L680.6 846.1L680.5 857L680.5 868L680.5 879L680.5 889.7L680.5 900L680.5 910.2L680.5 920.6L680.5 931.3L680.6 941.9L680.6 952.5L680.6 962.9L680.6 972.9L680.6 982.6L680.6 991.6L680.6 1000L680.7 1007.7L680.7 1014.9L680.8 1021.6L680.8 1027.8L680.9 1033.8L680.9 1039.4L681 1044.7L681 1049.9L681.1 1055L681.1 1060L681.2 1064.9L681.3 1069.4L681.3 1073.8L681.4 1077.9L681.5 1081.9L681.6 1085.7L681.7 1089.4L681.7 1093L681.8 1096.5L681.9 1100L681.9 1103.4L682 1106.5L682 1109.5L682.1 1112.4L682.1 1115.2L682.1 1118L682.2 1120.8L682.2 1123.7L682.3 1126.8L682.3 1130L682.3 1133.6L682.3 1137.5L682.4 1141.8L682.4 1146.1L682.4 1150.4L682.4 1154.5L682.4 1158.4L682.5 1161.9L682.5 1164.8L682.5 1167L683.5 1167L683.5 1164.8L683.5 1161.9L683.6 1158.4L683.6 1154.5L683.6 1150.4L683.6 1146.1L683.6 1141.8L683.7 1137.5L683.7 1133.6L683.7 1130L683.7 1126.8L683.8 1123.7L683.8 1120.8L683.9 1118L683.9 1115.2L683.9 1112.4L684 1109.5L684 1106.5L684.1 1103.4L684.1 1100L684.2 1096.5L684.3 1093L684.3 1089.4L684.4 1085.7L684.5 1081.9L684.6 1077.9L684.7 1073.8L684.7 1069.4L684.8 1064.9L684.9 1060L684.9 1055L685 1049.9L685 1044.7L685.1 1039.4L685.1 1033.8L685.2 1027.8L685.2 1021.6L685.3 1014.9L685.3 1007.7L685.4 1000L685.4 991.6L685.4 982.6L685.4 972.9L685.4 962.9L685.4 952.5L685.4 941.9L685.5 931.3L685.5 920.6L685.5 910.2L685.5 900L685.5 889.7L685.6 879L685.7 868.1L685.7 857L685.8 846.1L685.9 835.5L685.9 825.4L685.9 816L685.8 807.5L685.7 799.9L685.6 793.6L685.5 788.2L685.4 783.6L685.2 779.6L685 776.2L684.7 773.1L684.4 770.2L684 767.4L683.5 764.5L682.9 761.4L682.2 758.1L681.4 755L680.5 752L679.6 749.1L678.5 746.3L677.5 743.6L676.3 741L675.1 738.5L673.9 736L672.6 733.6L671.3 731.2L670 728.9L668.6 726.7L667.2 724.5L665.7 722.4L664.1 720.4L662.4 718.4L660.7 716.5L658.9 714.6L657 712.8L655 711L652.9 709.3L650.7 707.7L648.4 706.2L646.1 704.8L643.7 703.4L641.3 702L639 700.7L636.7 699.5L634.3 698.3L632 697.3L629.8 696.3L627.6 695.5L625.4 694.7L623.2 694L621 693.2L618.6 692.5L616.2 691.7L613.6 690.9L610.8 689.9L607.8 688.9L604.8 687.9L601.7 686.9L598.4 685.8L595.1 684.7L591.5 683.5L587.8 682.2L583.9 680.9L579.7 679.6L575.3 678.2L570.7 676.5L565.9 674.9L560.9 673.2L555.8 671.4L550.4 669.6L544.8 667.7L539 665.7L533 663.7L526.7 661.5L520.2 659.3L513.1 656.8L505 654L496.3 651L487.3 647.8L478.3 644.7L469.5 641.6L461.3 638.8L454 636.2L447.9 634.1L443.2 632.4Z" fill="#646464" stroke="#646464" stroke-width="0.6" stroke-linejoin="round"/>
<path d="M590.2 621.4L594.5 622.7L600.2 624.5L606.9 626.6L614.4 628.9L622.5 631.5L630.8 634.1L639 636.7L647 639.2L654.4 641.5L661 643.7L667 645.7L672.8 647.6L678.3 649.6L683.7 651.5L688.9 653.3L693.9 655.1L698.6 656.8L703.1 658.4L707.4 659.9L711.4 661.4L715.1 662.7L718.2 663.8L721 664.8L723.4 665.7L725.8 666.6L728.1 667.5L730.4 668.4L733 669.3L735.8 670.4L739.1 671.6L742.9 672.9L747.1 674.4L751.5 676L756.2 677.6L760.9 679.3L765.6 681L770.1 682.6L774.4 684.2L778.3 685.7L781.8 687.1L784.8 688.3L787.5 689.5L790 690.5L792.2 691.4L794.2 692.4L796 693.3L797.8 694.3L799.5 695.3L801.2 696.5L803.1 697.7L804.9 699.1L806.8 700.5L808.5 701.9L810.2 703.3L811.9 704.9L813.4 706.4L815 708.1L816.4 709.9L817.8 711.7L819.2 713.8L820.5 716L821.8 718.2L823 720.5L824.2 722.8L825.3 725.4L826.4 728L827.4 730.8L828.3 733.8L829.2 737.1L830 740.6L830.7 744.4L831.3 748.3L831.8 752.5L832.2 756.9L832.6 761.5L833 766.3L833.3 771.3L833.6 776.4L833.8 781.7L834.1 787.1L834.3 792.6L834.5 798.1L834.7 803.6L834.8 809.3L834.8 815.2L834.9 821.4L835 827.9L835 834.8L835.1 842.2L835.2 850L835.2 858.6L835.3 867.8L835.4 877.6L835.5 887.8L835.6 898.3L835.6 909L835.7 919.6L835.8 930.1L835.8 940.3L835.9 950L836 959.6L836.1 969.4L836.2 979.2L836.3 989L836.5 998.6L836.6 1007.9L836.7 1016.8L836.8 1025.2L836.9 1033L837 1040L837 1046.3L837.1 1051.8L837.2 1056.7L837.2 1061.1L837.3 1065.1L837.4 1068.8L837.4 1072.3L837.5 1075.8L837.6 1079.3L837.7 1083L837.7 1086.7L837.8 1090.2L837.9 1093.6L838.1 1096.9L838.2 1100.1L838.3 1103.2L838.4 1106.4L838.5 1109.5L838.6 1112.7L838.8 1116L838.8 1119.5L838.9 1123.3L839 1127.2L839.1 1131.2L839.2 1135.1L839.2 1138.8L839.3 1142.3L839.4 1145.4L839.4 1148L839.5 1150L840.5 1150L840.5 1148L840.5 1145.4L840.5 1142.3L840.4 1138.8L840.4 1135.1L840.4 1131.2L840.3 1127.2L840.3 1123.3L840.3 1119.5L840.2 1116L840.3 1112.7L840.3 1109.5L840.3 1106.3L840.3 1103.2L840.3 1100L840.3 1096.9L840.3 1093.6L840.3 1090.2L840.3 1086.7L840.3 1083L840.4 1079.3L840.5 1075.8L840.5 1072.3L840.6 1068.8L840.7 1065.1L840.8 1061.1L840.9 1056.7L840.9 1051.8L841 1046.2L841 1040L841.1 1032.9L841.1 1025.2L841.1 1016.8L841.1 1007.9L841.1 998.5L841.1 989L841.1 979.2L841.1 969.4L841.1 959.6L841.1 950L841.1 940.2L841.1 930L841 919.6L841 908.9L841 898.3L841 887.8L841 877.6L840.9 867.8L840.9 858.5L840.8 850L840.8 842.1L840.7 834.8L840.7 827.9L840.6 821.3L840.6 815.2L840.5 809.2L840.4 803.5L840.3 797.9L840.1 792.4L839.9 786.9L839.7 781.4L839.4 776.1L839.2 771L838.9 765.9L838.6 761.1L838.3 756.4L837.8 751.9L837.3 747.5L836.7 743.4L836 739.4L835.3 735.7L834.4 732.2L833.4 728.9L832.4 725.8L831.3 722.9L830.1 720.1L828.9 717.5L827.6 715L826.2 712.6L824.8 710.2L823.3 707.9L821.7 705.7L820 703.7L818.3 701.8L816.5 700L814.7 698.3L812.8 696.7L810.9 695.2L808.9 693.7L806.9 692.3L805 690.9L803 689.6L801.1 688.5L799.1 687.4L797.1 686.4L794.9 685.4L792.6 684.3L790.1 683.3L787.3 682.1L784.2 680.9L780.6 679.6L776.6 678.1L772.2 676.6L767.6 675.1L762.9 673.5L758.1 671.9L753.4 670.4L748.9 669L744.7 667.6L740.9 666.4L737.5 665.4L734.6 664.5L732 663.7L729.5 663L727.2 662.3L724.8 661.7L722.2 660.9L719.4 660.1L716.2 659.2L712.6 658L708.5 656.8L704.1 655.4L699.6 653.9L694.8 652.4L689.8 650.8L684.5 649.1L679.1 647.4L673.4 645.6L667.6 643.8L661.6 641.9L655 639.9L647.5 637.6L639.5 635.1L631.2 632.6L622.9 630L614.8 627.6L607.3 625.3L600.6 623.2L594.9 621.5L590.6 620.2Z" fill="#646464" stroke="#646464" stroke-width="0.6" stroke-linejoin="round"/>
<path d="M971.9 790.3L969.6 790.4L966.6 790.6L963.1 790.8L959.1 791L954.9 791.2L950.5 791.5L946 791.8L941.7 792.1L937.6 792.4L933.8 792.7L930.4 793.1L927.1 793.4L923.9 793.8L920.7 794.1L917.5 794.5L914.4 794.9L911.3 795.4L908.2 796L905.1 796.6L901.9 797.3L898.6 798.3L895.3 799.3L891.8 800.5L888.4 801.7L885 802.9L881.7 804.2L878.5 805.4L875.5 806.6L872.8 807.7L870.3 808.7L868.1 809.5L866.1 810.2L864.3 810.9L862.8 811.5L861.4 812.1L860 812.7L858.7 813.2L857.5 813.8L856.1 814.3L854.8 814.8L853.3 815.4L851.7 816L850.2 816.6L848.6 817.2L847.1 817.8L845.6 818.3L844.3 818.8L843.1 819.2L842.1 819.6L841.3 819.9L841.7 820.9L842.5 820.6L843.5 820.3L844.7 819.8L846 819.4L847.5 818.9L849 818.4L850.6 817.8L852.2 817.2L853.7 816.7L855.2 816.2L856.7 815.7L858 815.2L859.3 814.7L860.6 814.2L862 813.7L863.4 813.2L865 812.6L866.7 812L868.7 811.3L870.9 810.5L873.5 809.7L876.3 808.7L879.3 807.7L882.5 806.5L885.9 805.4L889.3 804.2L892.7 803.2L896.1 802.1L899.5 801.2L902.7 800.5L905.8 799.8L908.8 799.2L911.9 798.6L914.9 798.2L918 797.8L921.1 797.4L924.2 797L927.4 796.7L930.7 796.4L934.2 796.1L937.9 795.7L941.9 795.4L946.2 795.1L950.7 794.9L955.1 794.6L959.3 794.4L963.3 794.2L966.8 794L969.8 793.9L972.1 793.7Z" fill="#646464" stroke="#646464" stroke-width="0.6" stroke-linejoin="round"/>
<path d="M841.3 862.7L843.7 863.7L846.8 865L850.4 866.5L854.5 868.3L858.9 870.1L863.6 872.1L868.5 874.1L873.4 876.2L878.2 878.2L882.9 880.1L887.7 882.1L892.6 884.2L897.8 886.4L903.1 888.7L908.4 890.9L913.7 893.1L918.9 895.3L923.9 897.4L928.8 899.3L933.4 901.1L937.8 902.8L942.1 904.3L946.4 905.7L950.5 907.1L954.4 908.3L958.2 909.5L961.8 910.7L965.2 911.8L968.4 912.9L971.3 913.9L974 914.9L976.4 915.8L978.6 916.6L980.5 917.3L982.3 918L983.9 918.7L985.5 919.4L987 920.1L988.5 920.9L990 921.7L991.4 922.5L992.7 923.3L994 924L995.1 924.8L996.2 925.5L997.3 926.4L998.3 927.2L999.4 928.2L1000.5 929.2L1001.8 930.4L1003.1 931.7L1004.5 933.2L1005.9 934.7L1007.4 936.3L1008.8 937.9L1010.2 939.6L1011.5 941.3L1012.8 943L1014 944.8L1015 946.5L1015.9 948.2L1016.8 949.8L1017.5 951.5L1018.2 953.1L1018.8 954.8L1019.4 956.7L1020 958.7L1020.6 960.8L1021.3 963.2L1022 965.8L1022.8 968.6L1023.5 971.6L1024.3 974.6L1025 977.9L1025.8 981.3L1026.6 984.9L1027.4 988.6L1028.2 992.4L1029.1 996.5L1030 1000.6L1030.9 1005L1031.9 1009.7L1033 1014.6L1034.1 1019.6L1035.2 1024.7L1036.2 1029.9L1037.3 1035.1L1038.2 1040.3L1039.1 1045.4L1039.9 1050.5L1040.7 1055.4L1041.5 1060.3L1042.2 1065.1L1042.9 1069.9L1043.5 1074.7L1044 1079.5L1044.5 1084.5L1044.9 1089.5L1045.2 1094.7L1045.5 1100.1L1045.7 1105.6L1045.8 1111.2L1045.9 1117L1045.9 1122.8L1045.8 1128.8L1045.7 1134.9L1045.5 1141L1045.2 1147.2L1044.9 1153.5L1044.5 1159.9L1044 1166.6L1043.3 1174L1042.6 1181.8L1041.7 1189.7L1040.8 1197.6L1039.9 1205.2L1039.1 1212.2L1038.4 1218.5L1037.8 1223.8L1037.4 1227.9L1038.6 1228.1L1039.2 1224L1040 1218.7L1040.9 1212.5L1041.9 1205.4L1042.9 1197.9L1044 1190L1045 1182.1L1046 1174.3L1046.8 1166.9L1047.5 1160.1L1048.1 1153.7L1048.6 1147.4L1049.1 1141.2L1049.5 1135L1049.8 1128.9L1050.1 1122.9L1050.3 1117L1050.4 1111.2L1050.5 1105.5L1050.5 1099.9L1050.4 1094.5L1050.1 1089.2L1049.8 1084.1L1049.5 1079L1049 1074.1L1048.5 1069.2L1048 1064.3L1047.4 1059.4L1046.7 1054.5L1046.1 1049.5L1045.3 1044.4L1044.3 1039.2L1043.3 1033.9L1042.3 1028.7L1041.2 1023.4L1040.1 1018.3L1039 1013.2L1038 1008.4L1037 1003.7L1036 999.4L1035.1 995.2L1034.3 991.2L1033.5 987.3L1032.7 983.5L1031.9 979.9L1031.1 976.5L1030.3 973.2L1029.5 970L1028.8 967L1028 964.2L1027.2 961.5L1026.5 959.1L1025.8 956.9L1025.1 954.8L1024.4 952.8L1023.7 950.9L1022.9 949.1L1022 947.2L1021.1 945.4L1020 943.5L1018.7 941.6L1017.4 939.7L1015.9 937.9L1014.4 936.1L1012.8 934.3L1011.3 932.6L1009.7 931L1008.1 929.5L1006.6 928.1L1005.2 926.8L1003.9 925.6L1002.6 924.5L1001.4 923.5L1000.2 922.5L998.9 921.7L997.7 920.8L996.4 920.1L995 919.3L993.6 918.5L992 917.7L990.4 916.9L988.9 916.2L987.3 915.5L985.6 914.8L983.9 914.1L982 913.4L980 912.7L977.8 911.9L975.4 911.1L972.7 910.1L969.7 909.1L966.4 908.1L963 907L959.3 905.9L955.5 904.7L951.6 903.5L947.5 902.2L943.3 900.9L939 899.4L934.6 897.9L930 896.2L925.1 894.4L920 892.5L914.7 890.4L909.4 888.4L904 886.3L898.7 884.2L893.5 882.1L888.5 880.1L883.7 878.3L878.9 876.4L874 874.5L869.1 872.5L864.2 870.6L859.5 868.7L855 867L850.9 865.3L847.3 863.9L844.2 862.7L841.7 861.7Z" fill="#646464" stroke="#646464" stroke-width="0.6" stroke-linejoin="round"/>
<path d="M1382 742.5L1385.5 742.3L1390 742.1L1395.2 741.8L1401.1 741.4L1407.5 741L1414.1 740.6L1420.9 740.2L1427.6 739.8L1434 739.4L1440.1 739L1445.9 738.6L1451.8 738.3L1457.7 737.9L1463.6 737.5L1469.5 737.2L1475.3 736.8L1481 736.5L1486.6 736.1L1492 735.8L1497.1 735.4L1501.8 735.2L1506.1 735L1510 734.8L1513.8 734.6L1517.4 734.4L1521.2 734.2L1525.3 734L1529.7 733.8L1534.6 733.5L1540.2 733.2L1546.3 732.9L1552.9 732.5L1559.8 732L1567 731.6L1574.5 731.1L1582.4 730.6L1590.5 730.2L1598.8 729.7L1607.4 729.2L1616.2 728.7L1625.1 728.3L1634.3 727.8L1643.8 727.3L1653.5 726.9L1663.4 726.4L1673.7 725.9L1684.1 725.4L1694.9 724.9L1705.9 724.4L1717.2 723.7L1728.9 723.1L1741.4 722.4L1754.3 721.6L1767.6 720.8L1781 720L1794.4 719.2L1807.5 718.3L1820.3 717.6L1832.6 716.8L1844.2 716.1L1855.3 715.5L1866.4 714.9L1877.3 714.3L1888 713.7L1898.2 713.1L1908 712.6L1917.2 712.1L1925.7 711.6L1933.4 711.1L1940.2 710.7L1945.9 710.3L1950.4 710L1954.1 709.7L1957.1 709.4L1959.5 709.2L1961.6 708.9L1963.6 708.7L1965.5 708.4L1967.7 708.1L1970.2 707.8L1973 707.4L1975.8 707L1978.6 706.5L1981.4 706.1L1984.1 705.6L1986.7 705.2L1989.3 704.7L1991.7 704.1L1994 703.6L1996.2 703L1998.3 702.4L2000.4 701.7L2002.4 700.9L2004.2 700.1L2005.9 699.3L2007.5 698.6L2009 697.9L2010.3 697.2L2011.4 696.7L2012.2 696.3L2011.8 695.1L2010.8 695.5L2009.7 696L2008.4 696.6L2006.9 697.2L2005.3 697.9L2003.6 698.6L2001.7 699.3L1999.8 699.9L1997.8 700.5L1995.8 701L1993.6 701.4L1991.3 701.8L1988.8 702.1L1986.3 702.4L1983.7 702.7L1981 702.9L1978.2 703.2L1975.4 703.4L1972.6 703.6L1969.8 703.8L1967.2 704L1965.1 704.2L1963.2 704.3L1961.3 704.3L1959.2 704.4L1956.8 704.5L1953.8 704.6L1950.1 704.8L1945.5 705L1939.8 705.3L1933.1 705.7L1925.4 706.1L1916.9 706.6L1907.7 707.1L1897.9 707.6L1887.6 708.2L1877 708.8L1866.1 709.4L1855 710L1843.8 710.7L1832.3 711.3L1820 712.1L1807.2 712.9L1794 713.7L1780.6 714.5L1767.2 715.3L1754 716.1L1741.1 716.9L1728.6 717.6L1716.8 718.3L1705.6 718.9L1694.6 719.4L1683.9 719.9L1673.4 720.4L1663.2 720.9L1653.2 721.4L1643.5 721.8L1634 722.3L1624.8 722.8L1615.8 723.3L1607.1 723.8L1598.5 724.4L1590.2 725L1582 725.5L1574.2 726.1L1566.7 726.7L1559.4 727.2L1552.5 727.8L1546 728.3L1539.8 728.8L1534.3 729.2L1529.4 729.7L1525 730.1L1521 730.5L1517.2 730.9L1513.5 731.3L1509.8 731.7L1505.9 732.1L1501.6 732.5L1496.9 733L1491.8 733.3L1486.4 733.7L1480.9 734.1L1475.2 734.5L1469.4 734.9L1463.5 735.4L1457.5 735.8L1451.6 736.2L1445.7 736.6L1439.9 737L1433.9 737.4L1427.5 737.9L1420.8 738.3L1414 738.8L1407.4 739.3L1401 739.7L1395.1 740.1L1389.9 740.5L1385.4 740.8L1382 741.1Z" fill="#646464" stroke="#646464" stroke-width="0.6" stroke-linejoin="round"/>
<path d="M997.1 815.7L999.6 816L1002.8 816.4L1006.5 816.9L1010.8 817.4L1015.3 817.9L1020.2 818.5L1025.1 819.1L1030.1 819.8L1035 820.4L1039.8 821.1L1044.5 821.8L1049.3 822.5L1054.2 823.2L1059.2 824L1064.2 824.7L1069.3 825.6L1074.3 826.5L1079.4 827.5L1084.4 828.6L1089.4 829.8L1094.4 831.1L1099.5 832.6L1104.5 834.1L1109.5 835.8L1114.6 837.5L1119.7 839.3L1124.7 841.1L1129.8 843L1134.9 844.9L1140 846.8L1145 848.8L1150.1 850.8L1155.1 852.9L1160.2 855.1L1165.3 857.3L1170.4 859.5L1175.5 861.7L1180.6 863.8L1185.6 865.9L1190.7 868L1195.9 869.9L1201.2 871.8L1206.6 873.7L1212 875.5L1217.4 877.3L1222.6 879.1L1227.6 880.8L1232.3 882.5L1236.6 884.1L1240.6 885.6L1244.1 887.1L1247.3 888.4L1250.2 889.6L1252.8 890.7L1255.2 891.8L1257.4 893L1259.5 894.1L1261.5 895.3L1263.6 896.7L1265.7 898.2L1267.9 899.8L1270.1 901.5L1272.2 903.3L1274.3 905.1L1276.3 907L1278.2 909L1280 911L1281.7 913L1283.3 915.1L1284.8 917.2L1286.1 919.3L1287.3 921.3L1288.3 923.4L1289.3 925.5L1290.2 927.7L1291 930.1L1291.8 932.5L1292.6 935.1L1293.4 938L1294.2 941L1295 944.2L1295.8 947.5L1296.5 951L1297.3 954.6L1297.9 958.3L1298.6 962.2L1299.2 966.2L1299.7 970.3L1300.3 974.5L1300.7 978.9L1301.1 983.4L1301.5 988L1301.8 992.7L1302.1 997.5L1302.3 1002.5L1302.6 1007.6L1302.7 1012.8L1302.9 1018.1L1303 1023.6L1303.1 1029.1L1303.4 1034.7L1303.6 1040.6L1303.8 1046.6L1304 1052.7L1304.2 1058.9L1304.3 1065.1L1304.4 1071.4L1304.5 1077.6L1304.5 1083.8L1304.5 1089.9L1304.4 1096L1304.2 1102.1L1304 1108.3L1303.7 1114.4L1303.5 1120.5L1303.2 1126.6L1302.9 1132.6L1302.5 1138.5L1302.1 1144.3L1301.8 1149.9L1301.3 1155.6L1300.8 1161.5L1300.1 1167.4L1299.5 1173.4L1298.9 1179.1L1298.2 1184.6L1297.6 1189.6L1297.1 1194.1L1296.7 1197.9L1296.4 1200.9L1297.6 1201.1L1298 1198.1L1298.6 1194.3L1299.2 1189.8L1299.9 1184.8L1300.7 1179.4L1301.5 1173.6L1302.2 1167.7L1303 1161.7L1303.7 1155.8L1304.2 1150.1L1304.8 1144.5L1305.3 1138.7L1305.8 1132.8L1306.3 1126.8L1306.7 1120.7L1307.1 1114.6L1307.5 1108.4L1307.9 1102.3L1308.2 1096.2L1308.5 1090.1L1308.9 1084L1309.2 1077.7L1309.5 1071.5L1309.8 1065.2L1310.1 1058.9L1310.3 1052.7L1310.5 1046.6L1310.7 1040.5L1310.8 1034.6L1310.9 1028.9L1310.8 1023.4L1310.7 1017.9L1310.5 1012.6L1310.3 1007.3L1310.1 1002.2L1309.9 997.1L1309.6 992.2L1309.3 987.4L1308.9 982.7L1308.5 978.1L1308 973.7L1307.5 969.3L1306.9 965.1L1306.3 961L1305.6 957L1304.9 953.1L1304.2 949.4L1303.4 945.8L1302.6 942.3L1301.8 939L1300.9 935.9L1300.1 933L1299.3 930.2L1298.4 927.5L1297.5 924.9L1296.5 922.5L1295.4 920L1294.1 917.6L1292.8 915.2L1291.2 912.8L1289.6 910.5L1287.8 908.1L1285.9 905.8L1283.8 903.6L1281.7 901.5L1279.6 899.4L1277.3 897.4L1275 895.4L1272.7 893.6L1270.3 891.8L1267.9 890.2L1265.6 888.7L1263.3 887.3L1261 886.1L1258.6 884.8L1256 883.6L1253.3 882.4L1250.3 881.2L1247.1 879.8L1243.4 878.4L1239.3 876.8L1234.8 875.2L1230 873.6L1225 871.9L1219.7 870.2L1214.4 868.5L1209 866.7L1203.6 864.9L1198.4 863.1L1193.3 861.2L1188.2 859.4L1183.2 857.4L1178.1 855.4L1173 853.3L1167.8 851.2L1162.7 849.1L1157.5 847L1152.4 845L1147.2 843.1L1142 841.2L1136.9 839.4L1131.8 837.6L1126.6 835.8L1121.4 834.1L1116.3 832.4L1111.1 830.8L1106 829.3L1100.8 827.8L1095.7 826.5L1090.6 825.2L1085.4 824.1L1080.2 823.1L1075.1 822.3L1069.9 821.5L1064.8 820.8L1059.7 820.1L1054.7 819.6L1049.8 819L1044.9 818.4L1040.2 817.9L1035.4 817.3L1030.5 816.7L1025.4 816.2L1020.5 815.7L1015.6 815.3L1011 814.9L1006.8 814.5L1003 814.2L999.8 813.9L997.3 813.7Z" fill="#646464" stroke="#646464" stroke-width="0.6" stroke-linejoin="round"/>
<path d="M1171.8 763.6L1174.4 764.7L1177.8 766.1L1181.9 767.8L1186.4 769.6L1191.3 771.6L1196.4 773.7L1201.7 775.9L1206.9 778L1211.9 780L1216.6 781.9L1221.2 783.9L1225.9 785.9L1230.8 788L1235.6 790.1L1240.4 792.2L1245.2 794.3L1249.8 796.2L1254.3 797.9L1258.5 799.4L1262.5 800.7L1266.1 801.8L1269.2 802.5L1272.1 803L1274.7 803.2L1277.1 803.4L1279.6 803.6L1282.2 803.8L1285.1 804.1L1288.4 804.6L1292.4 805.4L1297.3 806.2L1303 807.1L1309.3 808.1L1315.8 809.3L1322.6 810.5L1329.4 811.8L1335.9 813.2L1342.2 814.6L1347.8 816.1L1352.7 817.7L1357 819.3L1360.9 821.1L1364.6 822.9L1367.9 824.9L1371 826.9L1373.9 828.9L1376.7 831L1379.4 833.1L1382.1 835.1L1384.6 837.1L1387 839L1389.2 840.9L1391.3 842.9L1393.3 844.9L1395.2 846.9L1396.9 848.8L1398.5 850.6L1399.9 852.2L1401.1 853.6L1402.2 854.7L1407.8 849.3L1406.9 848.3L1405.7 847L1404.3 845.4L1402.7 843.6L1400.9 841.6L1398.9 839.5L1396.8 837.3L1394.5 835.1L1392 833L1389.4 830.9L1386.8 829L1384.2 826.9L1381.4 824.8L1378.5 822.6L1375.4 820.4L1372 818.2L1368.3 816.1L1364.3 814L1360 812.1L1355.3 810.3L1350 808.7L1344 807.1L1337.6 805.6L1330.9 804.2L1324 802.8L1317.2 801.6L1310.6 800.4L1304.3 799.4L1298.6 798.5L1293.6 797.6L1289.2 797.3L1285.5 797.1L1282.3 797.2L1279.5 797.5L1277 797.8L1274.7 798L1272.3 798.2L1269.8 798.2L1266.9 797.9L1263.5 797.3L1259.6 796.2L1255.3 794.9L1250.9 793.3L1246.2 791.6L1241.5 789.7L1236.6 787.7L1231.7 785.8L1226.8 783.8L1222 781.9L1217.4 780.1L1212.6 778.2L1207.6 776.2L1202.3 774.2L1197.1 772.1L1191.9 770.1L1187 768.2L1182.4 766.4L1178.4 764.8L1174.9 763.4L1172.2 762.4Z" fill="#646464" stroke="#646464" stroke-width="0.6" stroke-linejoin="round"/>
<path d="M1406.3 855.7L1407 855.4L1407.8 855L1408.4 854.7L1409 854.4L1409.6 854.2L1410.2 853.9L1411.1 853.7L1412.1 853.5L1413.4 853.4L1415.1 853.3L1417.1 853.3L1419.5 853.4L1422.1 853.4L1425 853.6L1428 853.7L1431.1 854L1434.4 854.3L1437.7 854.7L1441 855.2L1444.3 855.7L1447.7 856.4L1451.3 857.1L1455 857.9L1458.7 858.7L1462.5 859.6L1466.4 860.6L1470.2 861.7L1474.1 862.9L1477.8 864.2L1481.6 865.6L1485.4 867.2L1489.3 868.9L1493.3 870.8L1497.3 872.7L1501.3 874.8L1505.2 876.9L1509 879L1512.5 881.1L1515.8 883.2L1518.8 885.2L1521.4 887.1L1523.8 889L1526 890.9L1528.1 892.7L1529.9 894.6L1531.6 896.5L1533.2 898.4L1534.8 900.4L1536.3 902.5L1537.7 904.7L1539.1 906.8L1540.4 908.8L1541.5 910.8L1542.5 912.8L1543.4 914.9L1544.2 917.1L1545.1 919.5L1545.9 922.3L1546.7 925.4L1547.6 928.9L1548.5 932.8L1549.3 937.2L1550.2 942L1551 947L1551.8 952.3L1552.6 957.6L1553.3 963.1L1554 968.5L1554.6 973.8L1555.1 978.9L1555.6 983.9L1556 989L1556.3 994.2L1556.6 999.4L1556.9 1004.5L1557.1 1009.6L1557.3 1014.7L1557.4 1019.6L1557.5 1024.4L1557.6 1029.1L1557.9 1033.5L1558.1 1037.6L1558.3 1041.5L1558.4 1045.4L1558.6 1049.2L1558.6 1053L1558.7 1056.9L1558.7 1060.9L1558.6 1065.2L1558.5 1069.9L1558.2 1074.8L1557.9 1080.1L1557.6 1085.6L1557.2 1091.2L1556.8 1097L1556.3 1102.7L1555.7 1108.5L1555.1 1114.1L1554.5 1119.6L1553.8 1124.8L1552.9 1130L1551.9 1135.4L1550.7 1140.9L1549.5 1146.4L1548.3 1151.7L1547 1156.8L1545.9 1161.4L1544.9 1165.6L1544 1169.1L1543.4 1171.9L1544.6 1172.1L1545.3 1169.4L1546.3 1165.9L1547.4 1161.8L1548.7 1157.2L1550.1 1152.2L1551.4 1146.9L1552.8 1141.4L1554.1 1135.9L1555.2 1130.5L1556.2 1125.2L1557.1 1119.9L1557.9 1114.5L1558.7 1108.8L1559.4 1103.1L1560 1097.3L1560.6 1091.5L1561.1 1085.9L1561.6 1080.4L1562.1 1075.1L1562.5 1070.1L1563 1065.5L1563.4 1061.2L1563.8 1057.1L1564.2 1053.1L1564.4 1049.3L1564.7 1045.5L1564.9 1041.6L1565.1 1037.6L1565.3 1033.4L1565.4 1028.9L1565.3 1024.3L1565.2 1019.4L1565.1 1014.4L1564.9 1009.3L1564.7 1004.2L1564.4 998.9L1564.1 993.7L1563.8 988.5L1563.4 983.3L1562.9 978.1L1562.3 972.9L1561.7 967.5L1561.1 962.1L1560.3 956.6L1559.6 951.1L1558.7 945.8L1557.9 940.7L1557 935.8L1556.1 931.2L1555.2 927.1L1554.3 923.4L1553.4 920.2L1552.5 917.2L1551.6 914.4L1550.6 911.9L1549.5 909.5L1548.4 907.2L1547.1 904.9L1545.7 902.7L1544.3 900.3L1542.7 898L1541 895.7L1539.3 893.5L1537.5 891.4L1535.6 889.2L1533.5 887.1L1531.2 885L1528.8 883L1526.1 880.9L1523.2 878.8L1520.1 876.7L1516.6 874.5L1512.9 872.3L1509 870.1L1504.9 867.9L1500.8 865.8L1496.6 863.7L1492.5 861.8L1488.4 860L1484.4 858.4L1480.5 856.9L1476.5 855.5L1472.5 854.3L1468.4 853.1L1464.5 852.1L1460.5 851.1L1456.6 850.2L1452.9 849.5L1449.2 848.7L1445.7 848.1L1442.2 847.5L1438.7 847L1435.2 846.6L1431.8 846.2L1428.5 846L1425.4 845.8L1422.4 845.6L1419.7 845.6L1417.2 845.5L1414.9 845.5L1412.9 845.6L1411 845.8L1409.4 846.1L1407.9 846.5L1406.7 846.9L1405.6 847.4L1404.8 847.8L1404.3 848.1L1404 848.2L1403.7 848.3Z" fill="#646464" stroke="#646464" stroke-width="0.6" stroke-linejoin="round"/>
<path d="M1353.9 753.6L1360.9 754.8L1370.1 756.4L1381 758.3L1393.2 760.3L1406.2 762.6L1419.8 764.9L1433.3 767.3L1446.5 769.7L1458.8 772.1L1469.8 774.3L1480.1 776.5L1490.2 778.8L1500.2 781.2L1510 783.6L1519.5 786L1528.5 788.4L1537.2 790.6L1545.3 792.7L1552.8 794.7L1559.6 796.5L1565.7 798L1571.1 799.4L1575.9 800.7L1580.1 801.8L1583.9 802.8L1587.4 803.7L1590.5 804.6L1593.6 805.5L1596.5 806.3L1599.4 807.2L1602.1 808L1604.4 808.7L1606.3 809.3L1608 809.9L1609.6 810.5L1611.2 811L1612.8 811.6L1614.7 812.2L1616.8 812.9L1619.3 813.7L1622.1 814.5L1625.1 815.3L1628.3 816.2L1631.7 817.1L1635.1 818L1638.7 818.9L1642.3 819.9L1645.9 820.9L1649.5 822L1653 823.1L1656.6 824.1L1660.3 825.3L1664 826.5L1667.8 827.7L1671.6 829L1675.5 830.3L1679.3 831.6L1683.2 832.9L1687 834.3L1690.8 835.7L1694.6 837.1L1698.6 838.6L1702.6 840.2L1706.7 841.7L1710.7 843.3L1714.6 844.9L1718.4 846.5L1722.1 848L1725.5 849.4L1728.6 850.8L1731.5 852.1L1734.2 853.3L1736.7 854.4L1739 855.4L1741.1 856.4L1743.1 857.4L1744.9 858.4L1746.6 859.4L1748.2 860.5L1749.8 861.7L1751.3 863L1752.7 864.3L1753.9 865.5L1755.1 866.9L1756.1 868.2L1757.1 869.7L1758.1 871.2L1759 872.8L1759.9 874.6L1760.8 876.5L1761.7 878.4L1762.4 880.3L1763.1 882.2L1763.7 884.1L1764.3 886.3L1764.9 888.6L1765.5 891.2L1766.1 894L1766.8 897.2L1767.6 900.7L1768.4 904.7L1769.3 909.1L1770.2 913.8L1771.2 918.8L1772.1 924.1L1773.1 929.4L1774 934.8L1774.9 940.2L1775.8 945.4L1776.5 950.5L1777.4 955.5L1778.1 960.6L1778.9 965.7L1779.6 970.8L1780.3 976L1780.9 981L1781.6 986L1782.2 990.9L1782.9 995.7L1783.5 1000.3L1784.2 1004.8L1784.9 1009.2L1785.5 1013.6L1786.2 1017.8L1786.9 1022L1787.5 1026L1788.1 1029.8L1788.7 1033.5L1789.2 1036.9L1789.8 1040.2L1790.2 1043.2L1790.6 1046L1791 1048.7L1791.3 1051.3L1791.6 1053.6L1791.9 1055.7L1792.2 1057.7L1792.5 1059.4L1792.7 1060.8L1792.9 1062.1L1794.1 1061.9L1794 1060.7L1793.9 1059.2L1793.8 1057.5L1793.7 1055.6L1793.5 1053.4L1793.3 1051L1793.1 1048.5L1792.8 1045.8L1792.5 1042.9L1792.2 1039.8L1792 1036.6L1791.7 1033.1L1791.3 1029.4L1791 1025.6L1790.6 1021.5L1790.2 1017.3L1789.8 1013L1789.3 1008.6L1788.9 1004.2L1788.5 999.7L1788 995.1L1787.6 990.3L1787.2 985.4L1786.7 980.4L1786.2 975.3L1785.7 970.1L1785.2 964.9L1784.7 959.7L1784.1 954.6L1783.5 949.5L1782.7 944.3L1781.8 939L1780.9 933.6L1780 928.2L1779 922.8L1778 917.6L1777.1 912.5L1776.2 907.7L1775.3 903.3L1774.4 899.3L1773.7 895.7L1773 892.5L1772.3 889.6L1771.7 886.9L1771.1 884.5L1770.4 882.2L1769.7 879.9L1769 877.8L1768.1 875.7L1767.2 873.5L1766.2 871.5L1765.2 869.5L1764.1 867.6L1763 865.8L1761.8 864.1L1760.5 862.4L1759.1 860.8L1757.6 859.3L1755.9 857.8L1754.2 856.3L1752.3 854.8L1750.4 853.5L1748.4 852.3L1746.3 851.2L1744.2 850.1L1741.9 849L1739.5 848L1737 846.8L1734.3 845.7L1731.4 844.4L1728.2 843L1724.8 841.5L1721.1 840L1717.3 838.4L1713.3 836.8L1709.2 835.2L1705.2 833.6L1701.1 832.1L1697.1 830.6L1693.2 829.1L1689.4 827.7L1685.5 826.3L1681.6 825L1677.7 823.6L1673.9 822.3L1670 821L1666.2 819.8L1662.4 818.6L1658.7 817.4L1655 816.3L1651.3 815.4L1647.6 814.4L1643.9 813.5L1640.2 812.7L1636.6 811.9L1633.1 811.1L1629.7 810.4L1626.5 809.7L1623.5 809L1620.7 808.3L1618.3 807.7L1616.2 807.2L1614.4 806.6L1612.7 806.2L1611.2 805.7L1609.5 805.2L1607.7 804.7L1605.7 804.2L1603.4 803.5L1600.6 802.8L1597.6 802.1L1594.6 801.4L1591.5 800.7L1588.3 800L1584.8 799.2L1581 798.3L1576.7 797.3L1571.9 796.2L1566.5 795L1560.4 793.5L1553.5 791.9L1546 790.1L1537.8 788.1L1529.2 785.9L1520 783.7L1510.5 781.4L1500.7 779.1L1490.7 776.8L1480.5 774.6L1470.2 772.5L1459.1 770.4L1446.8 768.1L1433.6 765.8L1420 763.4L1406.5 761.1L1393.4 758.9L1381.2 756.9L1370.3 755.1L1361.1 753.6L1354.1 752.4Z" fill="#646464" stroke="#646464" stroke-width="0.6" stroke-linejoin="round"/>
<path d="M1622.7 729.2L1625.3 730.5L1628.8 732.3L1633 734.3L1637.7 736.7L1642.6 739.2L1647.7 741.7L1652.7 744.1L1657.5 746.3L1661.9 748.3L1665.6 749.9L1668.8 751.2L1671.6 752.2L1674.2 753L1676.5 753.7L1678.7 754.3L1680.8 754.8L1682.9 755.2L1685 755.7L1687.2 756.1L1689.6 756.7L1692.1 757.5L1694.6 758.2L1697.1 759L1699.5 759.7L1702.1 760.4L1704.7 761.1L1707.4 761.9L1710.2 762.6L1713.2 763.4L1716.3 764.1L1719.8 764.7L1723.5 765.2L1727.3 765.7L1731.2 766.2L1735.1 766.7L1739.1 767.2L1743 767.9L1746.8 768.6L1750.4 769.4L1753.9 770.3L1757.3 771.4L1760.7 772.6L1764.1 773.9L1767.4 775.2L1770.7 776.7L1773.8 778.2L1777 779.8L1780 781.5L1782.9 783.3L1785.8 785.2L1788.5 787.2L1791.3 789.4L1793.9 791.6L1796.5 794L1799.1 796.5L1801.5 799L1803.9 801.6L1806.1 804.2L1808.3 806.8L1810.3 809.4L1812.2 811.9L1814 814.6L1815.6 817.3L1817.2 820L1818.7 822.8L1820.1 825.6L1821.5 828.4L1822.7 831.1L1823.9 833.8L1825 836.5L1826 838.9L1826.8 841.3L1827.6 843.4L1828.2 845.6L1828.8 847.7L1829.3 849.9L1829.8 852.2L1830.2 854.7L1830.7 857.5L1831.1 860.5L1831.6 863.9L1832 867.4L1832.3 871.2L1832.7 875.2L1832.9 879.3L1833.2 883.5L1833.5 887.7L1833.7 892L1833.9 896.1L1834.1 900.2L1834.5 904.1L1834.9 907.9L1835.3 911.5L1835.6 915.2L1836 918.9L1836.3 922.6L1836.6 926.6L1836.8 930.7L1836.9 935.2L1837 939.9L1836.9 945.1L1836.8 950.7L1836.6 956.5L1836.3 962.6L1836 968.8L1835.7 975.1L1835.3 981.5L1834.8 987.7L1834.3 993.9L1833.8 999.9L1833.1 1005.9L1832.3 1012.3L1831.3 1019L1830.4 1025.6L1829.3 1032.1L1828.3 1038.3L1827.4 1044L1826.6 1049.2L1825.9 1053.5L1825.4 1056.9L1826.6 1057.1L1827.2 1053.7L1828 1049.4L1829 1044.3L1830 1038.6L1831.2 1032.4L1832.3 1025.9L1833.4 1019.3L1834.5 1012.7L1835.4 1006.2L1836.2 1000.1L1836.9 994.2L1837.6 988L1838.2 981.7L1838.7 975.4L1839.2 969L1839.7 962.8L1840.1 956.7L1840.4 950.8L1840.7 945.3L1841 940.1L1841.3 935.2L1841.5 930.7L1841.7 926.5L1841.8 922.5L1841.9 918.6L1841.9 914.9L1841.9 911.2L1841.9 907.5L1841.9 903.7L1841.9 899.8L1841.7 895.7L1841.5 891.6L1841.2 887.3L1841 883L1840.7 878.8L1840.4 874.6L1840.1 870.6L1839.7 866.6L1839.3 862.9L1838.9 859.5L1838.4 856.3L1837.9 853.4L1837.4 850.8L1836.9 848.2L1836.3 845.8L1835.7 843.4L1835 841.1L1834.2 838.7L1833.3 836.2L1832.2 833.5L1831.1 830.8L1829.9 828L1828.5 825.1L1827.1 822.1L1825.6 819.2L1824 816.2L1822.3 813.3L1820.5 810.3L1818.6 807.4L1816.5 804.6L1814.3 801.9L1812.1 799.1L1809.7 796.4L1807.2 793.6L1804.6 791L1801.9 788.3L1799.1 785.8L1796.2 783.3L1793.2 781L1790.2 778.8L1787.1 776.7L1783.9 774.8L1780.7 773L1777.3 771.2L1773.9 769.6L1770.5 768.1L1766.9 766.6L1763.4 765.3L1759.8 764L1756.1 762.9L1752.3 761.8L1748.3 760.9L1744.3 760.2L1740.2 759.5L1736.1 759L1732.1 758.4L1728.2 758L1724.5 757.5L1721 757L1717.7 756.5L1714.5 756.1L1711.5 755.8L1708.6 755.5L1705.8 755.2L1703.2 754.9L1700.6 754.6L1698 754.3L1695.5 754L1692.9 753.6L1690.4 753.3L1687.9 752.8L1685.6 752.5L1683.5 752.1L1681.4 751.8L1679.3 751.5L1677.1 751.1L1674.9 750.6L1672.3 749.9L1669.5 749L1666.4 747.9L1662.7 746.4L1658.3 744.5L1653.6 742.3L1648.5 740L1643.4 737.6L1638.4 735.2L1633.7 732.9L1629.5 730.9L1625.9 729.2L1623.3 728Z" fill="#646464" stroke="#646464" stroke-width="0.6" stroke-linejoin="round"/>
<path d="M1840.7 716.5L1842.4 717.5L1844.5 718.7L1847.1 720.1L1850 721.7L1853.1 723.4L1856.3 725.2L1859.6 727L1862.8 728.7L1865.8 730.3L1868.6 731.8L1871.2 733.2L1873.7 734.6L1876.2 736L1878.6 737.4L1881.1 738.7L1883.5 740L1886 741.2L1888.4 742.4L1891 743.4L1893.5 744.4L1895.9 745.5L1898.2 746.4L1900.4 747.2L1902.7 748L1904.9 748.7L1907.4 749.4L1910 750L1912.8 750.6L1916 751.2L1919.6 751.9L1923.8 752.3L1928.5 752.6L1933.6 752.9L1939 753.2L1944.6 753.5L1950.1 753.8L1955.5 754.1L1960.6 754.4L1965.3 754.8L1969.5 755.3L1973.3 755.8L1976.8 756.3L1980 756.9L1983.1 757.5L1985.9 758.2L1988.6 758.8L1991.3 759.5L1993.8 760.3L1996.4 761L1998.9 761.7L2001.4 762.5L2003.7 763.1L2005.8 763.8L2007.9 764.4L2009.8 765.1L2011.6 765.8L2013.4 766.6L2015.1 767.5L2016.9 768.6L2018.8 769.8L2020.8 771.2L2022.8 772.8L2024.9 774.5L2026.9 776.2L2029 778.1L2030.9 780L2032.8 782.1L2034.5 784.3L2036.1 786.6L2037.6 788.9L2038.9 791.5L2040.2 794.2L2041.3 797.1L2042.4 800.2L2043.4 803.4L2044.3 806.7L2045.2 810.1L2046 813.6L2046.8 817.2L2047.6 820.8L2048.3 824.5L2049 828.2L2049.6 832.1L2050.2 836L2050.8 840L2051.2 844.1L2051.7 848.2L2052 852.2L2052.4 856.2L2052.6 860.2L2052.8 864.1L2052.9 868L2053 871.7L2053.1 875.5L2053 879.3L2053 883.2L2052.8 887.1L2052.6 891.2L2052.4 895.4L2052.1 899.7L2051.9 904.3L2051.7 909L2051.3 913.9L2050.9 918.9L2050.5 924L2050 929.2L2049.5 934.3L2049 939.5L2048.5 944.7L2048 949.7L2047.4 954.8L2046.8 960.1L2046.2 965.4L2045.6 970.7L2045 976L2044.3 981.2L2043.7 986.2L2043 991L2042.4 995.6L2041.8 999.8L2041.1 1003.8L2040.4 1007.7L2039.6 1011.4L2038.9 1015L2038.2 1018.4L2037.5 1021.5L2036.8 1024.4L2036.2 1026.9L2035.8 1029.1L2035.4 1030.9L2036.6 1031.1L2037.1 1029.4L2037.7 1027.3L2038.4 1024.8L2039.1 1022L2040 1018.8L2040.8 1015.5L2041.7 1011.9L2042.6 1008.1L2043.4 1004.2L2044.2 1000.2L2045 996L2045.8 991.4L2046.6 986.6L2047.4 981.6L2048.2 976.4L2049 971.1L2049.7 965.8L2050.5 960.5L2051.2 955.3L2052 950.3L2052.8 945.2L2053.7 940.2L2054.6 935L2055.5 929.9L2056.3 924.7L2057.2 919.7L2057.9 914.6L2058.7 909.7L2059.3 904.9L2059.9 900.3L2060.2 895.8L2060.4 891.6L2060.6 887.4L2060.8 883.4L2060.8 879.4L2060.9 875.5L2060.8 871.6L2060.7 867.7L2060.6 863.8L2060.4 859.8L2060.1 855.7L2059.8 851.6L2059.4 847.4L2059 843.2L2058.5 839.1L2058 835L2057.3 830.9L2056.7 826.9L2056 823L2055.2 819.2L2054.4 815.5L2053.6 811.9L2052.8 808.3L2051.9 804.7L2050.9 801.2L2049.8 797.7L2048.6 794.4L2047.4 791.2L2046 788L2044.4 785.1L2042.6 782.2L2040.7 779.6L2038.7 777.1L2036.6 774.7L2034.4 772.5L2032.1 770.4L2029.9 768.5L2027.6 766.6L2025.4 765L2023.2 763.4L2021.1 762L2018.9 760.7L2016.7 759.6L2014.6 758.6L2012.5 757.8L2010.3 757L2008.1 756.3L2005.9 755.7L2003.6 755L2001.1 754.3L1998.6 753.5L1996 752.8L1993.3 752L1990.6 751.3L1987.7 750.6L1984.7 749.9L1981.5 749.3L1978.1 748.6L1974.4 748.1L1970.5 747.5L1966.1 747.1L1961.2 746.7L1956 746.3L1950.5 746L1944.9 745.7L1939.4 745.4L1934.1 745.1L1929 744.8L1924.4 744.5L1920.4 744.1L1916.8 744L1913.7 743.8L1910.8 743.7L1908.3 743.5L1905.9 743.4L1903.7 743.2L1901.5 742.9L1899.3 742.6L1897 742.1L1894.5 741.6L1892 740.8L1889.5 739.8L1887.1 738.8L1884.6 737.7L1882.2 736.6L1879.7 735.3L1877.2 734.1L1874.7 732.8L1872.1 731.5L1869.4 730.2L1866.6 728.8L1863.5 727.2L1860.3 725.5L1857 723.8L1853.8 722.1L1850.7 720.4L1847.8 718.9L1845.2 717.5L1843 716.4L1841.3 715.5Z" fill="#646464" stroke="#646464" stroke-width="0.6" stroke-linejoin="round"/>
<path d="M2014.9 697.6L2018.1 698.1L2022.3 698.6L2027.3 699.2L2032.9 699.9L2038.8 700.6L2045 701.5L2051 702.4L2056.8 703.4L2062.2 704.6L2066.8 705.8L2070.8 707.2L2074.7 708.8L2078.3 710.7L2081.7 712.6L2085 714.6L2088.1 716.6L2091.1 718.5L2094 720.3L2096.8 721.9L2099.5 723.2L2101.9 724.4L2103.8 725.4L2105.5 726.2L2107.1 726.9L2108.7 727.5L2110.3 728.1L2112.1 728.5L2114.2 729L2116.7 729.4L2119.8 729.9L2123.5 730.1L2127.8 730.2L2132.6 730.2L2137.5 730.2L2142.7 730.1L2147.9 730.1L2153 730.2L2157.9 730.3L2162.5 730.5L2166.6 730.9L2170.4 731.4L2174 731.9L2177.4 732.6L2180.7 733.3L2183.9 734L2187 734.9L2190 735.7L2192.9 736.7L2195.8 737.7L2198.7 738.7L2201.4 739.7L2204.1 740.8L2206.7 741.9L2209.1 743L2211.5 744.2L2213.8 745.5L2216.1 746.8L2218.3 748.2L2220.5 749.6L2222.7 751.1L2224.8 752.8L2226.9 754.4L2229 756.1L2231 757.9L2232.9 759.7L2234.8 761.6L2236.6 763.6L2238.4 765.7L2240.1 767.9L2241.8 770.2L2243.5 772.7L2245.1 775.2L2246.6 777.8L2248.2 780.6L2249.6 783.4L2251.1 786.3L2252.5 789.4L2253.8 792.5L2255.1 795.8L2256.3 799.3L2257.5 802.9L2258.7 806.7L2259.9 810.6L2261 814.7L2262.1 818.9L2263.1 823.1L2264 827.4L2264.8 831.8L2265.5 836.1L2266.1 840.5L2266.6 844.9L2267 849.3L2267.3 853.8L2267.5 858.3L2267.7 862.9L2267.7 867.5L2267.7 872.2L2267.6 877L2267.4 881.9L2267.1 886.8L2266.9 891.8L2266.6 897.1L2266.2 902.5L2265.7 908L2265.1 913.5L2264.5 919L2263.9 924.5L2263.2 929.8L2262.6 934.9L2262 939.7L2261.3 944.3L2260.7 948.7L2260 953L2259.3 957.2L2258.5 961.2L2257.8 965.2L2257.1 969L2256.3 972.7L2255.6 976.2L2254.8 979.7L2254 983.1L2253 986.5L2252.1 989.8L2251.1 993.1L2250.1 996.2L2249.2 999.1L2248.3 1001.8L2247.6 1004.1L2246.9 1006.2L2246.4 1007.8L2247.6 1008.2L2248.2 1006.6L2248.9 1004.6L2249.8 1002.3L2250.8 999.7L2251.9 996.8L2253 993.7L2254.1 990.5L2255.2 987.1L2256.2 983.7L2257.2 980.3L2258.1 976.9L2259 973.3L2259.9 969.6L2260.8 965.8L2261.7 961.9L2262.6 957.8L2263.5 953.7L2264.3 949.3L2265.1 944.9L2266 940.3L2266.9 935.5L2267.9 930.5L2269 925.3L2270 919.9L2271 914.4L2271.9 908.8L2272.8 903.3L2273.6 897.8L2274.3 892.4L2274.9 887.2L2275.2 882.2L2275.4 877.3L2275.5 872.4L2275.5 867.5L2275.5 862.7L2275.3 858L2275.1 853.3L2274.8 848.7L2274.4 844.1L2273.9 839.5L2273.2 835L2272.5 830.4L2271.6 825.9L2270.7 821.4L2269.7 817L2268.6 812.7L2267.4 808.5L2266.2 804.4L2265 800.5L2263.7 796.7L2262.4 793.1L2261 789.6L2259.6 786.2L2258.1 783L2256.6 779.9L2255 776.9L2253.4 773.9L2251.7 771.1L2250 768.4L2248.2 765.8L2246.3 763.2L2244.4 760.8L2242.4 758.5L2240.4 756.3L2238.4 754.2L2236.2 752.1L2234.1 750.2L2231.9 748.4L2229.6 746.6L2227.3 744.9L2224.9 743.2L2222.6 741.6L2220.1 740.1L2217.6 738.6L2215.1 737.3L2212.5 736L2209.8 734.8L2207.1 733.6L2204.3 732.4L2201.3 731.3L2198.4 730.3L2195.4 729.3L2192.3 728.3L2189.1 727.4L2185.8 726.5L2182.5 725.7L2178.9 724.9L2175.3 724.2L2171.4 723.6L2167.4 723.1L2163 722.7L2158.2 722.5L2153.1 722.4L2147.9 722.3L2142.7 722.4L2137.5 722.4L2132.6 722.4L2127.9 722.4L2123.8 722.3L2120.2 722.1L2117.2 722.2L2114.7 722.2L2112.7 722.3L2111 722.4L2109.6 722.5L2108.2 722.4L2106.7 722.3L2105 722L2102.9 721.5L2100.5 720.8L2097.8 719.7L2095.1 718.3L2092.2 716.6L2089.2 714.8L2086 712.9L2082.7 710.9L2079.1 709L2075.4 707.2L2071.4 705.6L2067.2 704.2L2062.5 703L2057.1 701.9L2051.3 701L2045.2 700.1L2039 699.2L2033.1 698.5L2027.5 697.9L2022.5 697.3L2018.3 696.8L2015.1 696.4Z" fill="#646464" stroke="#646464" stroke-width="0.6" stroke-linejoin="round"/>
<path d="M1045 766.5C1040.8 766.8 1027.5 767.9 1020 768.5C1012.5 769.1 1003.1 770.1 999.7 770.4" stroke="#3a3a3a" stroke-width="1.8" />
<path d="M712.7 656.3C711.6 653.6 708.5 645.7 706 640C703.5 634.3 701 628.3 698 622C695 615.7 691.3 608 688 602C684.7 596 679.7 588.8 678 586.2" stroke="#3a3a3a" stroke-width="1.8" />
<path d="M972 792C974.2 794 980.8 800.2 985 804C989.2 807.8 995.2 812.9 997.2 814.7" stroke="#3a3a3a" stroke-width="1.8" />
<path d="M588 620L610 628" stroke="#3a3a3a" stroke-width="1.8" />
<path d="M1383 742C1384.3 738.3 1389.3 728.7 1391 720C1392.7 711.3 1392.7 695 1393 690" stroke="#3a3a3a" stroke-width="1.8" />
</g>
<g fill="none" stroke-linecap="butt">
<path d="M426 325L2118 316" stroke="#ec1c24" stroke-width="7.5"/>
<path d="M2118 316L2479 356" stroke="#ec1c24" stroke-width="7.5"/>
<path d="M212.8 457L212.8 1092" stroke="#ec1c24" stroke-width="7.5"/>
<path d="M212 1090.5L574.3 1305.8" stroke="#ec1c24" stroke-width="7.5"/>
<path d="M350.5 524L350.5 1076" stroke="#ec1c24" stroke-width="7.5"/>
<path d="M350.5 1075.3L566.8 1198.4" stroke="#ec1c24" stroke-width="7.5"/>
<path d="M560.8 673.6L560.8 1135.5" stroke="#ec1c24" stroke-width="7.5"/>
<path d="M683 1008L837 998" stroke="#ec1c24" stroke-width="7.5"/>
<path d="M581.5 601.4L623.8 601.4" stroke="#ec1c24" stroke-width="7.5"/>
<path d="M702 629L904 580" stroke="#ec1c24" stroke-width="7.5"/>
<path d="M864 536L977 790" stroke="#ec1c24" stroke-width="7.5"/>
<path d="M657 502.7L1367.4 474.4" stroke="#ec1c24" stroke-width="7.5"/>
<path d="M1002 450L1041 770" stroke="#ec1c24" stroke-width="7.5"/>
<path d="M1041 770L1452.5 895.5" stroke="#ec1c24" stroke-width="7.5"/>
<path d="M1006 931.5L1452.5 895" stroke="#ec1c24" stroke-width="7.5"/>
<path d="M1451 895L1765 873" stroke="#ec1c24" stroke-width="7.5"/>
<path d="M1453.2 893L1453.2 1222" stroke="#ec1c24" stroke-width="7.5"/>
<path d="M1388 513.4L1993.2 493.2" stroke="#ec1c24" stroke-width="7.5"/>
<path d="M1498.2 731.6L1772 806.5" stroke="#ec1c24" stroke-width="7.5"/>
<path d="M1652 817L2437 756" stroke="#ec1c24" stroke-width="7.5"/>
<path d="M2072 690L2437 756" stroke="#ec1c24" stroke-width="7.5"/>
<path d="M2016 691L2116 684" stroke="#ec1c24" stroke-width="7.5"/>
<path d="M2378 995.5L2378 1020" stroke="#ec1c24" stroke-width="7.5"/>
<path d="M1016 1335L1970.3 1231" stroke="#ec1c24" stroke-width="7.5"/>
</g>
<g>
<g transform="translate(1130.7 304) rotate(0)"><text class="b" x="-2.5" font-size="75" textLength="119.8" lengthAdjust="spacingAndGlyphs">262</text><text class="r" x="116.6" font-size="72" textLength="113" lengthAdjust="spacingAndGlyphs">cm</text></g>
<g transform="translate(2209.5 306.8) rotate(6.3)"><text class="b" x="-2.5" font-size="75" textLength="80.7" lengthAdjust="spacingAndGlyphs">90</text><text class="r" x="77.4" font-size="72" textLength="113" lengthAdjust="spacingAndGlyphs">cm</text></g>
<g transform="translate(1038 474) rotate(-2.6)"><text class="b" x="-3.9" font-size="75" textLength="105.2" lengthAdjust="spacingAndGlyphs">101</text><text class="r" x="109.3" font-size="72" textLength="113" lengthAdjust="spacingAndGlyphs">cm</text></g>
<g transform="translate(1602.3 492.4) rotate(-2.8)"><text class="b" x="-3.9" font-size="75" textLength="105.2" lengthAdjust="spacingAndGlyphs">101</text><text class="r" x="109.3" font-size="72" textLength="113" lengthAdjust="spacingAndGlyphs">cm</text></g>
<g transform="translate(463.8 593.8) rotate(-2.5)"><text class="b" x="-3.9" font-size="75" textLength="65.8" lengthAdjust="spacingAndGlyphs">11</text><text class="r" x="70.1" font-size="72" textLength="113" lengthAdjust="spacingAndGlyphs">cm</text></g>
<g transform="translate(684.8 622.9) rotate(-16.3)"><text class="b" x="-1.6" font-size="75" textLength="79.7" lengthAdjust="spacingAndGlyphs">32</text><text class="r" x="77.4" font-size="72" textLength="113" lengthAdjust="spacingAndGlyphs">cm</text></g>
<g transform="translate(911.3 606.6) rotate(67.5)"><text class="b" x="-1.6" font-size="75" textLength="79.7" lengthAdjust="spacingAndGlyphs">32</text><text class="r" x="77.4" font-size="72" textLength="113" lengthAdjust="spacingAndGlyphs">cm</text></g>
<g transform="translate(1030.3 529.8) rotate(85.2)"><text class="b" x="-1" font-size="75" textLength="78.8" lengthAdjust="spacingAndGlyphs">43</text><text class="r" x="77.4" font-size="72" textLength="113" lengthAdjust="spacingAndGlyphs">cm</text></g>
<g transform="translate(1924.3 677.8) rotate(-1.8)"><text class="b" x="-1.6" font-size="75" textLength="78.8" lengthAdjust="spacingAndGlyphs">35</text><text class="r" x="77.4" font-size="72" textLength="113" lengthAdjust="spacingAndGlyphs">cm</text></g>
<g transform="translate(2183 693.5) rotate(11.6)"><text class="b" x="-2.2" font-size="75" textLength="80" lengthAdjust="spacingAndGlyphs">83</text><text class="r" x="77.4" font-size="72" textLength="113" lengthAdjust="spacingAndGlyphs">cm</text></g>
<g transform="translate(1567 733.5) rotate(15.5)"><text class="b" x="-2.2" font-size="75" textLength="80.4" lengthAdjust="spacingAndGlyphs">50</text><text class="r" x="77.4" font-size="72" textLength="113" lengthAdjust="spacingAndGlyphs">cm</text></g>
<g transform="translate(1893.9 778.5) rotate(-3.1)"><text class="b" x="-4.4" font-size="75" textLength="116.5" lengthAdjust="spacingAndGlyphs">135</text><text class="r" x="112.3" font-size="72" textLength="113" lengthAdjust="spacingAndGlyphs">cm</text></g>
<g transform="translate(1143.5 786.3) rotate(15.8)"><text class="b" x="-4.4" font-size="75" textLength="117.1" lengthAdjust="spacingAndGlyphs">106</text><text class="r" x="112.3" font-size="72" textLength="113" lengthAdjust="spacingAndGlyphs">cm</text></g>
<g transform="translate(1067.8 904.3) rotate(-2.1)"><text class="b" x="-4.4" font-size="75" textLength="117.5" lengthAdjust="spacingAndGlyphs">100</text><text class="r" x="112.3" font-size="72" textLength="113" lengthAdjust="spacingAndGlyphs">cm</text></g>
<g transform="translate(1467.8 972.2) rotate(90)"><text class="b" x="-1.6" font-size="75" textLength="79" lengthAdjust="spacingAndGlyphs">38</text><text class="r" x="77.4" font-size="72" textLength="113" lengthAdjust="spacingAndGlyphs">cm</text></g>
<g transform="translate(1424.3 1357.7) rotate(-6.2)"><text class="b" x="-4.4" font-size="75" textLength="117.1" lengthAdjust="spacingAndGlyphs">123</text><text class="r" x="112.3" font-size="72" textLength="113" lengthAdjust="spacingAndGlyphs">cm</text></g>
<g transform="translate(662 987) rotate(-3)"><text class="b" x="-2.5" font-size="75" textLength="80.6" lengthAdjust="spacingAndGlyphs">22</text><text class="r" x="77.4" font-size="72" textLength="113" lengthAdjust="spacingAndGlyphs">cm</text></g>
<g transform="translate(548.6 998.5) rotate(-90)"><text class="b" x="-2.2" font-size="75" textLength="79.4" lengthAdjust="spacingAndGlyphs">55</text><text class="r" x="77.4" font-size="72" textLength="113" lengthAdjust="spacingAndGlyphs">cm</text></g>
<g transform="translate(333.8 910.2) rotate(-90)"><text class="b" x="-3.1" font-size="75" textLength="81.3" lengthAdjust="spacingAndGlyphs">72</text><text class="r" x="77.4" font-size="72" textLength="113" lengthAdjust="spacingAndGlyphs">cm</text></g>
<g transform="translate(194.9 858.1) rotate(-90)"><text class="b" x="-2.2" font-size="75" textLength="80.3" lengthAdjust="spacingAndGlyphs">82</text><text class="r" x="77.4" font-size="72" textLength="113" lengthAdjust="spacingAndGlyphs">cm</text></g>
<g transform="translate(408 1089) rotate(32.8)"><text class="b" x="-2.5" font-size="75" textLength="80.7" lengthAdjust="spacingAndGlyphs">90</text><text class="r" x="77.4" font-size="72" textLength="113" lengthAdjust="spacingAndGlyphs">cm</text></g>
<g transform="translate(312.5 1127.9) rotate(32.8)"><text class="b" x="-4.4" font-size="75" textLength="116.5" lengthAdjust="spacingAndGlyphs">145</text><text class="r" x="112.3" font-size="72" textLength="113" lengthAdjust="spacingAndGlyphs">cm</text></g>
<g transform="translate(2395 926.8) rotate(90)"><text class="b" x="-2.4" font-size="75" textLength="97.7" lengthAdjust="spacingAndGlyphs">2,5</text><text class="r" x="95.4" font-size="72" textLength="113" lengthAdjust="spacingAndGlyphs">cm</text></g>
</g>
<g>
<path d="M483.4 1445L791.6 1445Q840.8 1445 840.8 1494L840.8 1690L431.3 1700L431.3 1520.4C433 1524.2 436.1 1534.8 441.4 1543.4C446.7 1552 454.9 1563.5 463 1571.9C471.1 1580.3 480.2 1587.7 490.2 1593.6C500.1 1599.5 510.5 1603.7 522.7 1607.1C534.9 1610.5 550.5 1612.6 563.4 1614C576.3 1615.4 593.9 1615.1 600 1615.3C596.2 1613 585.3 1607.6 577 1601.7C568.7 1595.8 559 1588.6 550 1580C541 1571.4 530.9 1560.8 522.7 1550C514.5 1539.2 506.9 1527.7 501 1515C495.1 1502.3 490.4 1485.7 487.5 1474C484.6 1462.3 484.1 1449.8 483.4 1445Z" fill="#696969"/>
<g fill="#fff">
<polygon points="579.1,1453.9 580.6,1457.7 584.6,1457.8 581.4,1460.3 582.5,1464.2 579.1,1462 575.8,1464.2 576.9,1460.3 573.7,1457.8 577.7,1457.7"/>
<polygon points="654.3,1450.8 654.9,1452.5 656.7,1452.6 655.3,1453.7 655.8,1455.4 654.3,1454.4 652.8,1455.4 653.3,1453.7 651.8,1452.6 653.6,1452.5"/>
<polygon points="527.3,1465.8 528.8,1469.6 532.8,1469.8 529.6,1472.3 530.7,1476.1 527.3,1473.9 524,1476.1 525.1,1472.3 521.9,1469.8 525.9,1469.6"/>
<polygon points="623.9,1468.2 624.5,1469.8 626.3,1469.9 624.9,1471.1 625.4,1472.8 623.9,1471.8 622.4,1472.8 622.9,1471.1 621.5,1469.9 623.3,1469.8"/>
<polygon points="676,1462.9 678.3,1469.2 684.9,1469.4 679.7,1473.6 681.5,1479.9 676,1476.3 670.5,1479.9 672.2,1473.6 667,1469.4 673.7,1469.2"/>
<polygon points="728.9,1460.3 729.5,1462 731.3,1462.1 729.9,1463.2 730.4,1464.9 728.9,1463.9 727.4,1464.9 727.8,1463.2 726.4,1462.1 728.2,1462"/>
<polygon points="768.2,1457.2 769.6,1460.9 773.6,1461.1 770.5,1463.6 771.5,1467.5 768.2,1465.2 764.8,1467.5 765.9,1463.6 762.8,1461.1 766.8,1460.9"/>
<polygon points="782.6,1472.5 783.2,1474.2 785,1474.3 783.6,1475.4 784.1,1477.1 782.6,1476.1 781.1,1477.1 781.5,1475.4 780.1,1474.3 781.9,1474.2"/>
<polygon points="810.2,1468.4 812.6,1474.6 819.2,1474.9 814,1479 815.8,1485.4 810.2,1481.7 804.7,1485.4 806.5,1479 801.3,1474.9 807.9,1474.6"/>
<polygon points="594.6,1478.6 596,1482.3 600,1482.5 596.9,1485 598,1488.9 594.6,1486.7 591.3,1488.9 592.3,1485 589.2,1482.5 593.2,1482.3"/>
<polygon points="718,1475.3 719.4,1479.1 723.4,1479.3 720.3,1481.8 721.4,1485.6 718,1483.4 714.7,1485.6 715.7,1481.8 712.6,1479.3 716.6,1479.1"/>
<polygon points="696.3,1485.2 696.9,1486.9 698.8,1487 697.3,1488.1 697.8,1489.9 696.3,1488.9 694.8,1489.9 695.3,1488.1 693.9,1487 695.7,1486.9"/>
<polygon points="711.2,1485.8 711.9,1487.5 713.7,1487.6 712.3,1488.7 712.7,1490.4 711.2,1489.4 709.7,1490.4 710.2,1488.7 708.8,1487.6 710.6,1487.5"/>
<polygon points="758.2,1478.6 759.6,1482.3 763.6,1482.5 760.4,1485 761.5,1488.9 758.2,1486.7 754.8,1488.9 755.9,1485 752.7,1482.5 756.7,1482.3"/>
<polygon points="558.8,1485.7 561.1,1491.9 567.7,1492.2 562.6,1496.3 564.3,1502.7 558.8,1499.1 553.3,1502.7 555.1,1496.3 549.9,1492.2 556.5,1491.9"/>
<polygon points="644.2,1488.3 645.6,1492.1 649.7,1492.3 646.5,1494.8 647.6,1498.7 644.2,1496.4 640.9,1498.7 642,1494.8 638.8,1492.3 642.8,1492.1"/>
<polygon points="632.6,1494.2 633.2,1495.9 635,1496 633.6,1497.1 634.1,1498.8 632.6,1497.8 631.1,1498.8 631.6,1497.1 630.1,1496 631.9,1495.9"/>
<polygon points="600,1497 601.4,1500.8 605.4,1501 602.3,1503.5 603.4,1507.3 600,1505.1 596.7,1507.3 597.8,1503.5 594.6,1501 598.6,1500.8"/>
<polygon points="732.9,1496.9 733.6,1498.6 735.4,1498.7 734,1499.8 734.4,1501.5 732.9,1500.5 731.4,1501.5 731.9,1499.8 730.5,1498.7 732.3,1498.6"/>
<polygon points="522.2,1505 522.8,1506.7 524.6,1506.8 523.2,1507.9 523.7,1509.7 522.2,1508.7 520.7,1509.7 521.2,1507.9 519.8,1506.8 521.6,1506.7"/>
<polygon points="673.8,1503.3 675.2,1507 679.2,1507.2 676.1,1509.7 677.2,1513.6 673.8,1511.4 670.5,1513.6 671.5,1509.7 668.4,1507.2 672.4,1507"/>
<polygon points="818.4,1507.8 819,1509.4 820.8,1509.5 819.4,1510.6 819.9,1512.4 818.4,1511.4 816.9,1512.4 817.3,1510.6 815.9,1509.5 817.7,1509.4"/>
<polygon points="709.9,1507.7 712.2,1513.9 718.8,1514.2 713.6,1518.3 715.4,1524.7 709.9,1521 704.4,1524.7 706.1,1518.3 700.9,1514.2 707.6,1513.9"/>
<polygon points="788.5,1509.2 789.9,1513 793.9,1513.2 790.8,1515.7 791.9,1519.5 788.5,1517.3 785.2,1519.5 786.3,1515.7 783.1,1513.2 787.1,1513"/>
<polygon points="642.1,1517 642.7,1518.7 644.5,1518.7 643.1,1519.9 643.6,1521.6 642.1,1520.6 640.6,1521.6 641,1519.9 639.6,1518.7 641.4,1518.7"/>
<polygon points="558,1523.3 559.4,1527.1 563.4,1527.3 560.3,1529.8 561.3,1533.6 558,1531.4 554.6,1533.6 555.7,1529.8 552.6,1527.3 556.6,1527.1"/>
<polygon points="609,1524.1 610.4,1527.9 614.4,1528.1 611.3,1530.6 612.3,1534.5 609,1532.2 605.6,1534.5 606.7,1530.6 603.6,1528.1 607.6,1527.9"/>
<polygon points="622.5,1524.1 624,1527.9 628,1528.1 624.8,1530.6 625.9,1534.5 622.5,1532.2 619.2,1534.5 620.3,1530.6 617.1,1528.1 621.1,1527.9"/>
<polygon points="746.5,1522 747.9,1525.7 751.9,1525.9 748.8,1528.4 749.8,1532.3 746.5,1530.1 743.1,1532.3 744.2,1528.4 741.1,1525.9 745.1,1525.7"/>
<polygon points="535.8,1540.4 537.2,1544.2 541.2,1544.4 538,1546.9 539.1,1550.7 535.8,1548.5 532.4,1550.7 533.5,1546.9 530.3,1544.4 534.3,1544.2"/>
<polygon points="654.8,1539.1 656.2,1542.8 660.2,1543 657.1,1545.5 658.2,1549.4 654.8,1547.2 651.5,1549.4 652.5,1545.5 649.4,1543 653.4,1542.8"/>
<polygon points="690.3,1537.7 691.8,1541.5 695.8,1541.6 692.6,1544.1 693.7,1548 690.3,1545.8 687,1548 688.1,1544.1 684.9,1541.6 688.9,1541.5"/>
<polygon points="681.4,1543.6 682,1545.2 683.8,1545.3 682.4,1546.5 682.9,1548.2 681.4,1547.2 679.9,1548.2 680.4,1546.5 679,1545.3 680.8,1545.2"/>
<polygon points="757.3,1540.8 758,1542.5 759.8,1542.6 758.4,1543.7 758.8,1545.5 757.3,1544.5 755.8,1545.5 756.3,1543.7 754.9,1542.6 756.7,1542.5"/>
<polygon points="801.3,1541.8 802.7,1545.5 806.7,1545.7 803.6,1548.2 804.6,1552.1 801.3,1549.9 797.9,1552.1 799,1548.2 795.9,1545.7 799.9,1545.5"/>
<polygon points="581.3,1546.7 582.7,1550.4 586.7,1550.6 583.6,1553.1 584.7,1557 581.3,1554.7 578,1557 579,1553.1 575.9,1550.6 579.9,1550.4"/>
<polygon points="546.6,1556.4 548,1560.2 552,1560.4 548.9,1562.9 549.9,1566.7 546.6,1564.5 543.3,1566.7 544.3,1562.9 541.2,1560.4 545.2,1560.2"/>
<polygon points="623.1,1559 625.4,1565.2 632,1565.5 626.8,1569.6 628.6,1576 623.1,1572.3 617.6,1576 619.3,1569.6 614.1,1565.5 620.8,1565.2"/>
<polygon points="711.2,1558.4 713.6,1564.6 720.2,1564.9 715,1569 716.8,1575.4 711.2,1571.8 705.7,1575.4 707.5,1569 702.3,1564.9 708.9,1564.6"/>
<polygon points="724.8,1557.1 725.4,1558.8 727.2,1558.9 725.8,1560 726.3,1561.8 724.8,1560.8 723.3,1561.8 723.8,1560 722.4,1558.9 724.2,1558.8"/>
<polygon points="450.3,1565.8 451,1567.5 452.8,1567.6 451.3,1568.7 451.8,1570.4 450.3,1569.4 448.8,1570.4 449.3,1568.7 447.9,1567.6 449.7,1567.5"/>
<polygon points="582.4,1574.7 583,1576.4 584.8,1576.5 583.4,1577.6 583.9,1579.4 582.4,1578.4 580.9,1579.4 581.4,1577.6 580,1576.5 581.8,1576.4"/>
<polygon points="663.2,1570.8 664.6,1574.6 668.6,1574.7 665.5,1577.2 666.6,1581.1 663.2,1578.9 659.9,1581.1 661,1577.2 657.8,1574.7 661.8,1574.6"/>
<polygon points="684.1,1569.3 684.7,1571 686.5,1571.1 685.1,1572.2 685.6,1574 684.1,1573 682.6,1574 683.1,1572.2 681.7,1571.1 683.5,1571"/>
<polygon points="758.2,1569.7 759.6,1573.5 763.6,1573.7 760.4,1576.2 761.5,1580 758.2,1577.8 754.8,1580 755.9,1576.2 752.7,1573.7 756.7,1573.5"/>
<polygon points="784.5,1575.2 786.8,1581.4 793.4,1581.7 788.2,1585.9 790,1592.2 784.5,1588.6 778.9,1592.2 780.7,1585.9 775.5,1581.7 782.1,1581.4"/>
<polygon points="817,1577.5 817.6,1579.2 819.4,1579.2 818,1580.4 818.5,1582.1 817,1581.1 815.5,1582.1 816,1580.4 814.6,1579.2 816.4,1579.2"/>
<polygon points="467.9,1579.2 469.4,1583 473.4,1583.1 470.2,1585.6 471.3,1589.5 467.9,1587.3 464.6,1589.5 465.7,1585.6 462.5,1583.1 466.5,1583"/>
<polygon points="592.7,1588.3 593.3,1590 595.1,1590.1 593.7,1591.2 594.2,1592.9 592.7,1591.9 591.2,1592.9 591.7,1591.2 590.3,1590.1 592.1,1590"/>
<polygon points="630.1,1585.9 630.8,1587.6 632.6,1587.6 631.2,1588.8 631.6,1590.5 630.1,1589.5 628.6,1590.5 629.1,1588.8 627.7,1587.6 629.5,1587.6"/>
<polygon points="449.5,1592.8 450.9,1596.5 454.9,1596.7 451.8,1599.2 452.9,1603.1 449.5,1600.9 446.2,1603.1 447.2,1599.2 444.1,1596.7 448.1,1596.5"/>
<polygon points="494.8,1607.3 495.4,1609 497.2,1609.1 495.8,1610.2 496.3,1611.9 494.8,1610.9 493.3,1611.9 493.8,1610.2 492.4,1609.1 494.2,1609"/>
<polygon points="500.2,1611.4 500.9,1613.1 502.7,1613.1 501.2,1614.3 501.7,1616 500.2,1615 498.7,1616 499.2,1614.3 497.8,1613.1 499.6,1613.1"/>
<polygon points="526.5,1608.2 527.9,1612 531.9,1612.2 528.8,1614.7 529.9,1618.5 526.5,1616.3 523.2,1618.5 524.3,1614.7 521.1,1612.2 525.1,1612"/>
<polygon points="467.9,1611.3 470.3,1617.5 476.9,1617.8 471.7,1621.9 473.5,1628.3 467.9,1624.7 462.4,1628.3 464.2,1621.9 459,1617.8 465.6,1617.5"/>
<polygon points="554.7,1631.2 555.4,1632.9 557.2,1632.9 555.8,1634.1 556.2,1635.8 554.7,1634.8 553.2,1635.8 553.7,1634.1 552.3,1632.9 554.1,1632.9"/>
<polygon points="508.9,1635.1 510.3,1638.8 514.3,1639 511.2,1641.5 512.2,1645.4 508.9,1643.2 505.6,1645.4 506.6,1641.5 503.5,1639 507.5,1638.8"/>
<polygon points="477.2,1650.7 477.8,1652.4 479.6,1652.5 478.2,1653.6 478.7,1655.3 477.2,1654.3 475.7,1655.3 476.1,1653.6 474.7,1652.5 476.5,1652.4"/>
</g>
<path d="M387 1707L577 1649L905 1659L905.5 1701L666 1811L388 1749Z" fill="#fff" stroke="#fff" stroke-width="7" stroke-linejoin="round"/>
<path d="M388.5 1708.5L666 1757.5L666 1810.5L388.5 1748.5Z" fill="#f5f5f7"/>
<path d="M666 1757.5L905.2 1661.4L905.2 1700.7L666 1810.5Z" fill="#f5f5f7"/>
<path d="M388.5 1741L666 1803.5L666 1812L388.5 1749.5Z" fill="#666"/>
<path d="M666 1803.5L905.2 1693.5L905.2 1701.5L666 1812Z" fill="#666"/>
<path d="M389 1708L389 1749" stroke="#666" stroke-width="2.2" fill="none"/>
<path d="M904.5 1661L904.5 1701" stroke="#666" stroke-width="2.2" fill="none"/>
<path d="M665.2 1757.5C660 1772 660 1794 665.2 1808C670.5 1794 670.5 1772 665.2 1757.5Z" fill="#666"/>
<path d="M387 1707C402.5 1702.3 448.3 1688.3 480 1679C511.7 1669.7 560.8 1655.7 577 1651C604.2 1650.8 685.3 1648.5 740 1650C794.7 1651.5 877.5 1658.3 905 1660C884.7 1667.6 823.3 1689.6 783.4 1705.7C743.5 1721.8 685.1 1748 665.5 1756.4C641.8 1751.6 569.4 1735.7 523 1727.5C476.6 1719.3 409.7 1710.4 387 1707Z" fill="#ec1c24"/>
<path d="M709.5 1662.8C710.4 1661.1 710.9 1656.5 714.6 1652.5C718.3 1648.5 725.6 1642.6 731.8 1638.7C738 1634.8 744.8 1631.9 752 1629C759.2 1626.1 766.7 1623.6 774.8 1621.5C782.9 1619.4 790.5 1616.7 800.5 1616.4C810.5 1616.1 823.5 1617.8 835 1619.8C846.5 1621.8 858.4 1625 869.3 1628.4C880.2 1631.8 893.9 1637.5 900.2 1640.4C906.5 1643.3 906.4 1643.9 907 1645.6C907.6 1647.3 907 1648.5 903.6 1650.8C900.2 1653.1 895.1 1655.6 886.5 1659.3C877.9 1663 860.6 1669.5 852 1673C843.4 1676.5 839.3 1677.4 835 1680C830.7 1682.6 829.2 1687.2 826.3 1688.6C823.4 1690 821.1 1689.8 817.7 1688.6C814.3 1687.4 814.3 1684 805.7 1681.7C797.1 1679.4 778.5 1677.1 766.2 1674.8C753.9 1672.5 740.4 1669.7 731.8 1668C723.2 1666.3 718.3 1665.4 714.6 1664.5C710.9 1663.6 710.4 1663.1 709.5 1662.8Z" fill="#fff" stroke="#fff" stroke-width="6" stroke-linejoin="round"/>
<path d="M577.2 1640.4C581.5 1637.8 593 1631 603 1625C613 1619 628.4 1609 637.3 1604.4C646.2 1599.8 651.3 1599.2 656.2 1597.5C661.1 1595.8 662.5 1594 666.5 1594C670.5 1594 672.3 1596.6 680.3 1597.5C688.3 1598.4 703.1 1597.5 714.6 1599.2C726.1 1600.9 739 1604.1 749 1607.8C759 1611.5 773 1616.1 774.8 1621.5C776.6 1626.9 765.8 1634.9 760 1640C754.2 1645.1 747.6 1649.7 740 1652C732.4 1654.3 719.7 1652.2 714.6 1654C709.5 1655.8 711.5 1659.9 709.5 1662.8C707.5 1665.7 705.2 1669.7 702.6 1671.4C700 1673.1 697.7 1674.7 694 1673C690.3 1671.3 688.3 1663.6 680.3 1661C672.3 1658.4 657.4 1659.9 645.9 1657.6C634.4 1655.3 621.2 1649.3 611.5 1647.3C601.8 1645.3 593.2 1646.8 587.5 1645.6C581.8 1644.4 578.9 1641.3 577.2 1640.4Z" fill="#fff" stroke="#fff" stroke-width="6" stroke-linejoin="round"/>
<g fill="none" stroke="#666" stroke-width="1.3" stroke-linecap="round">
<path d="M589 1645.8C592.8 1646.1 602 1645.5 611.5 1647.6C621 1649.7 634.4 1656.1 645.9 1658.5C657.4 1660.9 672.3 1659.8 680.3 1662C688.3 1664.2 690.3 1670.2 694 1671.5C697.7 1672.8 700.6 1670.6 702.6 1669.5C704.6 1668.4 705.4 1665.8 706 1665"/>
<path d="M725 1602.5C729 1603.5 740.7 1605.5 749 1608.5C757.3 1611.5 770.5 1618.5 774.8 1620.5"/>
<path d="M716 1664.5C724.4 1666.3 751.2 1672.5 766.2 1675.5C781.2 1678.5 797.1 1680.6 805.7 1682.5C814.3 1684.4 814.3 1686.2 817.7 1687C821.1 1687.8 823.4 1688.1 826.3 1687C829.2 1685.9 825 1685 835 1680.5C845 1676 875.5 1664.8 886.5 1660C897.5 1655.2 898.6 1653.3 901 1652"/>
<path d="M845 1622.5C849 1623.5 861.3 1625.8 869.3 1628.2C877.3 1630.6 889 1635.5 893 1637"/>
</g>
<path d="M706 1645.6C716 1632 735 1624 754.2 1625C740 1630 722 1636 709 1647Z" fill="#666"/>
<path d="M833.2 1666.2C842 1652 862 1643.5 881.3 1645.6C866 1650 849 1657 836 1668Z" fill="#666"/>
<g fill="none" stroke="#ec1c24" stroke-linecap="round" stroke-linejoin="miter">
<path d="M383 1771L667.5 1832.5L915 1718" stroke-width="5"/>
<path d="M418 1761.5C404 1763 392 1766 382 1770C388 1780 393 1789 397.5 1795.5" stroke-width="4"/>
<path d="M888 1716.5C898 1715 908 1715 917 1716C912 1727 908 1738 905.5 1748" stroke-width="4"/>
</g>
</g>
<text class="b" x="920.3" y="1670" font-size="75" style="fill:#656566" textLength="348.9" lengthAdjust="spacingAndGlyphs">200 x 125</text>
</svg></body></html>
